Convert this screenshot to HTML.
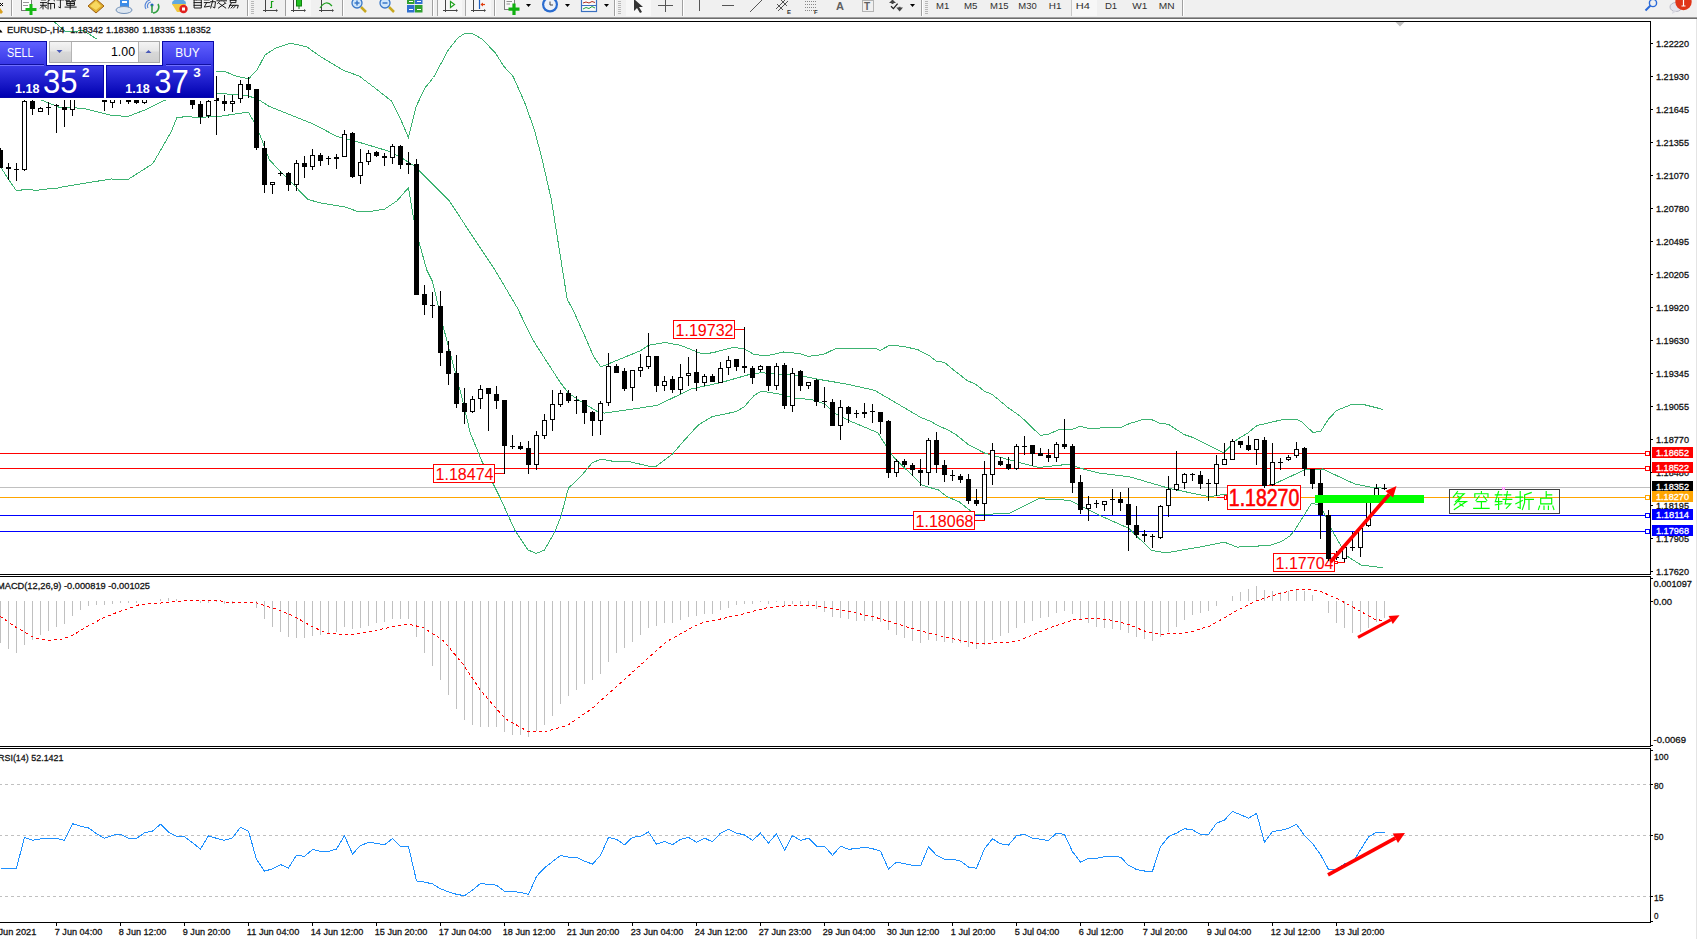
<!DOCTYPE html><html><head><meta charset="utf-8"><style>html,body{margin:0;padding:0;width:1697px;height:939px;overflow:hidden;background:#fff}svg{display:block}</style></head><body><svg width="1697" height="939" viewBox="0 0 1697 939"><rect x="0" y="0" width="1697" height="939" fill="#ffffff"/>
<rect x="0" y="0" width="1697" height="17" fill="#f0f0f0"/>
<rect x="0" y="17" width="1697" height="1" fill="#a0a0a0"/>
<rect x="0" y="18" width="1697" height="1" fill="#6d6d6d"/>
<polygon points="0,8 3,12 1,14 0,13" fill="#d8a020"/>
<path d="M0,3 L3,6 M0,6 L3,3" stroke="#000" stroke-width="1"/>
<rect x="11" y="0" width="1" height="16" fill="#a0a0a0"/>
<rect x="12" y="0" width="1" height="16" fill="#ffffff"/>
<rect x="21.5" y="-2.5" width="10" height="13" fill="#fff" stroke="#777"/>
<path d="M23,2.5 H29 M23,5.5 H28" stroke="#999"/>
<path d="M31,4 V15 M25.5,9.5 H36.5" stroke="#14b814" stroke-width="3"/>
<path d="M41.4,-0.1 L45.6,-0.1 M40.5,2.6 L46.5,2.6 M43.0,2.6 L43.0,8.9 M40.5,5.3 L46.5,5.3 M42.2,6.2 L40.5,8.0 M44.8,6.2 L46.5,8.0 M51.5,-1.0 L48.1,0.8 L48.1,8.9 M48.1,3.5 L52.4,3.5 M50.7,3.5 L50.7,8.9 M53.6,-0.1 L54.5,0.8 M52.8,3.5 L54.5,3.5 L54.5,8.0 M57.0,-0.1 L63.8,-0.1 M60.4,-0.1 L60.4,8.0 L58.8,7.1 M65.9,-1.9 L69.3,-1.9 L69.3,0.8 L65.9,0.8 L65.9,-1.9 M71.9,-1.9 L75.3,-1.9 L75.3,0.8 L71.9,0.8 L71.9,-1.9 M66.8,1.7 L74.4,1.7 L74.4,5.3 L66.8,5.3 L66.8,1.7 M66.8,3.5 L74.4,3.5 M70.2,1.7 L70.2,8.9 M65.1,7.1 L76.1,7.1" fill="none" stroke="#101010" stroke-width="0.95" stroke-linecap="square"/>
<polygon points="88,6 96,-1 104,6 96,13" fill="#e0b030" stroke="#a06010"/>
<polygon points="90,6 96,1 101,6 96,10" fill="#f8d860"/>
<rect x="120" y="-2" width="9" height="10" fill="#3c8ce8"/>
<rect x="122" y="1" width="5" height="2" fill="#fff"/>
<ellipse cx="124" cy="10" rx="8" ry="3.5" fill="#dde6f0" stroke="#7090b8"/>
<path d="M146,9 A6,6 0 0 1 150,0 M148,8 A4,4 0 0 1 151,2" fill="none" stroke="#5a88d8" stroke-width="1.2"/>
<path d="M158,4 A6,6 0 0 1 153,13" fill="none" stroke="#30a040" stroke-width="1.5"/>
<circle cx="152" cy="5" r="1.6" fill="#2060c0"/><path d="M152,5 V13" stroke="#2a9a40" stroke-width="1.5"/>
<ellipse cx="179" cy="3" rx="7" ry="4" fill="#60a8e0"/>
<polygon points="172,4 186,4 181,12 177,12" fill="#f0c840"/>
<circle cx="183.5" cy="9" r="4.2" fill="#e02020"/><rect x="182" y="7.5" width="3" height="3" fill="#fff"/>
<path d="M197.3,-1.9 L196.5,-0.1 M194.1,-0.1 L201.3,-0.1 L201.3,8.0 L194.1,8.0 L194.1,-0.1 M194.1,2.6 L201.3,2.6 M194.1,5.3 L201.3,5.3 M204.3,-0.1 L209.1,-0.1 M204.3,2.6 L209.9,2.6 M206.7,2.6 L204.3,7.1 L209.9,6.2 M210.7,1.7 L215.5,1.7 L214.7,8.0 L213.1,7.1 M213.1,-1.0 L210.7,8.0 M221.7,-1.9 L221.7,-0.1 M216.9,0.8 L226.5,0.8 M219.3,1.7 L217.7,3.5 M224.1,1.7 L225.7,3.5 M218.5,8.0 L224.9,3.5 M219.3,3.5 L225.7,8.0 M230.3,-1.9 L235.9,-1.9 L235.9,2.6 L230.3,2.6 L230.3,-1.9 M230.3,0.4 L235.9,0.4 M229.5,5.3 L238.3,5.3 L237.5,8.0 M231.1,3.5 L228.7,8.0 M233.5,5.3 L231.1,8.0 M235.9,5.3 L233.5,8.0" fill="none" stroke="#101010" stroke-width="0.95" stroke-linecap="square"/>
<rect x="247" y="0" width="1" height="16" fill="#a0a0a0"/>
<rect x="248" y="0" width="1" height="16" fill="#ffffff"/>
<rect x="251" y="1" width="3" height="1" fill="#b8b8b8"/>
<rect x="251" y="3" width="3" height="1" fill="#b8b8b8"/>
<rect x="251" y="5" width="3" height="1" fill="#b8b8b8"/>
<rect x="251" y="7" width="3" height="1" fill="#b8b8b8"/>
<rect x="251" y="9" width="3" height="1" fill="#b8b8b8"/>
<rect x="251" y="11" width="3" height="1" fill="#b8b8b8"/>
<rect x="251" y="13" width="3" height="1" fill="#b8b8b8"/>
<path d="M265.5,0 V12 M263,10.5 H276" stroke="#444" stroke-width="1"/>
<polygon points="276,9 278,10.5 276,12" fill="#444"/>
<path d="M271.5,1 V8 M271.5,1.5 H273.5 M270,7.5 H271.5" stroke="#14a014" stroke-width="1.2"/>
<rect x="285" y="0" width="1" height="16" fill="#a0a0a0"/>
<rect x="286" y="0" width="1" height="16" fill="#ffffff"/>
<rect x="286" y="0" width="25" height="16" fill="#f7f7f7"/>
<path d="M293.5,0 V12 M291,10.5 H304" stroke="#444" stroke-width="1"/>
<polygon points="304,9 306,10.5 304,12" fill="#444"/>
<rect x="296.5" y="-1" width="5" height="7" fill="#22c022" stroke="#108010"/><path d="M299,6 V9" stroke="#108010"/>
<path d="M321.5,0 V12 M319,10.5 H332" stroke="#444" stroke-width="1"/>
<polygon points="332,9 334,10.5 332,12" fill="#444"/>
<path d="M320,8 Q326,-1 332,6" fill="none" stroke="#20a020" stroke-width="1.2"/>
<rect x="342" y="0" width="1" height="16" fill="#a0a0a0"/>
<rect x="343" y="0" width="1" height="16" fill="#ffffff"/>
<path d="M361,7 L366,12" stroke="#c8a820" stroke-width="2.5"/>
<circle cx="357" cy="3" r="5" fill="#cfe6fa" stroke="#3a78c8" stroke-width="1.3"/>
<path d="M354.5,3 H359.5" stroke="#3a78c8" stroke-width="1.5"/>
<path d="M357,0.5 V5.5" stroke="#3a78c8" stroke-width="1.5"/>
<path d="M389,7 L394,12" stroke="#c8a820" stroke-width="2.5"/>
<circle cx="385" cy="3" r="5" fill="#cfe6fa" stroke="#3a78c8" stroke-width="1.3"/>
<path d="M382.5,3 H387.5" stroke="#3a78c8" stroke-width="1.5"/>
<rect x="407" y="-1" width="7.5" height="5" fill="#30a030"/><rect x="415" y="-1" width="7.5" height="5" fill="#3070d0"/>
<rect x="407" y="5" width="7.5" height="7.5" fill="#3070d0"/><rect x="415" y="5" width="7.5" height="7.5" fill="#30a030"/>
<path d="M409,9.5 H413 M417,9.5 H421 M409,1.5 H413 M417,1.5 H421" stroke="#fff"/>
<rect x="432" y="0" width="1" height="16" fill="#a0a0a0"/>
<rect x="433" y="0" width="1" height="16" fill="#ffffff"/>
<rect x="438" y="0" width="24" height="16" fill="#f7f7f7"/>
<rect x="437" y="0" width="1" height="16" fill="#a8a8a8"/>
<path d="M445.5,0 V12 M443,10.5 H456" stroke="#444" stroke-width="1"/>
<polygon points="456,9 458,10.5 456,12" fill="#444"/>
<polygon points="450.5,1.5 450.5,7.5 454.5,4.5" fill="#fff" stroke="#20a020" stroke-width="1.2"/>
<rect x="466" y="0" width="25" height="16" fill="#f7f7f7"/>
<rect x="465" y="0" width="1" height="16" fill="#a8a8a8"/>
<path d="M473.5,0 V12 M471,10.5 H484" stroke="#444" stroke-width="1"/>
<polygon points="484,9 486,10.5 484,12" fill="#444"/>
<path d="M479.5,-1 V9" stroke="#2060c0" stroke-width="1.2"/><path d="M481,4.5 H485" stroke="#e04010" stroke-width="1.2"/><polygon points="480.5,4.5 483,2.5 483,6.5" fill="#e04010"/>
<rect x="494" y="0" width="1" height="16" fill="#a0a0a0"/>
<rect x="495" y="0" width="1" height="16" fill="#ffffff"/>
<rect x="504.5" y="-2.5" width="10" height="12" fill="#f8f8f8" stroke="#808080"/><path d="M506.5,1.5 H512 M506.5,4 H510" stroke="#909090"/>
<path d="M514,3.5 V15 M508.5,9.2 H519.5" stroke="#10b010" stroke-width="3.2"/>
<polygon points="526,4 531,4 528.5,7" fill="#000"/>
<circle cx="550" cy="4.5" r="8" fill="#2a6cd0"/><circle cx="550" cy="4.5" r="5.8" fill="#eef2f8"/><path d="M550,1.5 V5 H553" stroke="#444" fill="none"/>
<polygon points="565,4 570,4 567.5,7" fill="#000"/>
<rect x="581.5" y="-1.5" width="15" height="13" fill="#fafafa" stroke="#3a70c0" stroke-width="1.2"/>
<path d="M583,3 L586,2 L589,3 L592,1.5 L595,2.5" fill="none" stroke="#b03020"/><path d="M583,9 L586,7.5 L589,8.5 L592,6.5 L595,8" fill="none" stroke="#20a040"/><path d="M582,5.5 H596" stroke="#3a70c0"/>
<polygon points="604,4 609,4 606.5,7" fill="#000"/>
<rect x="614" y="0" width="1" height="16" fill="#a0a0a0"/>
<rect x="615" y="0" width="1" height="16" fill="#ffffff"/>
<rect x="618" y="1" width="3" height="1" fill="#b8b8b8"/>
<rect x="618" y="3" width="3" height="1" fill="#b8b8b8"/>
<rect x="618" y="5" width="3" height="1" fill="#b8b8b8"/>
<rect x="618" y="7" width="3" height="1" fill="#b8b8b8"/>
<rect x="618" y="9" width="3" height="1" fill="#b8b8b8"/>
<rect x="618" y="11" width="3" height="1" fill="#b8b8b8"/>
<rect x="618" y="13" width="3" height="1" fill="#b8b8b8"/>
<rect x="626" y="0" width="25" height="16" fill="#f7f7f7"/>
<polygon points="634,-1 634,11 637,8 640,13 642,12 639,7 643,7" fill="#333"/>
<path d="M665.5,-1 V12 M658,5.5 H673" stroke="#555"/>
<rect x="682" y="0" width="1" height="16" fill="#a0a0a0"/>
<rect x="683" y="0" width="1" height="16" fill="#ffffff"/>
<path d="M699.5,-1 V11" stroke="#555"/>
<path d="M722,5.5 H734" stroke="#555"/>
<path d="M750,12 L763,-1" stroke="#555"/>
<path d="M776,9 L786,-1 M778,11 L788,1 M777,4 L783,10 M781,0 L787,6" stroke="#555"/>
<text x="787" y="13.5" font-size="6" fill="#333" font-family="Liberation Sans" font-weight="bold" stroke="none">E</text>
<path d="M805,1.5 H817 M805,4.5 H817 M805,7.5 H817 M805,10.5 H814" stroke="#888" stroke-dasharray="1,1"/>
<text x="814" y="13.5" font-size="6" fill="#333" font-family="Liberation Sans" font-weight="bold" stroke="none">F</text>
<text x="836" y="10" font-size="11" fill="#606060" font-family="Liberation Sans" font-weight="bold" stroke="none">A</text>
<rect x="862.5" y="0.5" width="11" height="11" fill="none" stroke="#777" stroke-dasharray="1,1"/>
<text x="864" y="10" font-size="10" fill="#606060" font-family="Liberation Sans" font-weight="bold" stroke="none">T</text>
<polygon points="889,3 896,3 892.5,-0.5" fill="#444"/><rect x="891.5" y="2.5" width="2" height="1.5" fill="#444"/>
<path d="M891,6.2 L893.4,8.6 L897.6,3.6" fill="none" stroke="#222" stroke-width="1.3"/>
<polygon points="896.3,7.5 903,7.5 899.65,11.5" fill="#444"/><rect x="898.6" y="6.8" width="2" height="1" fill="#444"/>
<polygon points="910,4 915,4 912.5,7" fill="#000"/>
<rect x="921" y="0" width="1" height="16" fill="#a0a0a0"/>
<rect x="922" y="0" width="1" height="16" fill="#ffffff"/>
<rect x="925" y="1" width="3" height="1" fill="#b8b8b8"/>
<rect x="925" y="3" width="3" height="1" fill="#b8b8b8"/>
<rect x="925" y="5" width="3" height="1" fill="#b8b8b8"/>
<rect x="925" y="7" width="3" height="1" fill="#b8b8b8"/>
<rect x="925" y="9" width="3" height="1" fill="#b8b8b8"/>
<rect x="925" y="11" width="3" height="1" fill="#b8b8b8"/>
<rect x="925" y="13" width="3" height="1" fill="#b8b8b8"/>
<text x="936.1" y="9" font-size="9.5" fill="#303030" font-family="Liberation Sans" textLength="13.2" lengthAdjust="spacingAndGlyphs" stroke="none">M1</text>
<text x="964.0" y="9" font-size="9.5" fill="#303030" font-family="Liberation Sans" textLength="13.5" lengthAdjust="spacingAndGlyphs" stroke="none">M5</text>
<text x="990.0" y="9" font-size="9.5" fill="#303030" font-family="Liberation Sans" textLength="18.5" lengthAdjust="spacingAndGlyphs" stroke="none">M15</text>
<text x="1018.3" y="9" font-size="9.5" fill="#303030" font-family="Liberation Sans" textLength="18.4" lengthAdjust="spacingAndGlyphs" stroke="none">M30</text>
<text x="1048.8" y="9" font-size="9.5" fill="#303030" font-family="Liberation Sans" textLength="12.7" lengthAdjust="spacingAndGlyphs" stroke="none">H1</text>
<rect x="1071" y="0" width="26" height="16" fill="#f7f7f7"/>
<rect x="1071" y="0" width="1" height="16" fill="#c8c8c8"/>
<text x="1075.7" y="9" font-size="9.5" fill="#303030" font-family="Liberation Sans" textLength="14.1" lengthAdjust="spacingAndGlyphs" stroke="none">H4</text>
<text x="1104.9" y="9" font-size="9.5" fill="#303030" font-family="Liberation Sans" textLength="12.3" lengthAdjust="spacingAndGlyphs" stroke="none">D1</text>
<text x="1132.3" y="9" font-size="9.5" fill="#303030" font-family="Liberation Sans" textLength="15.0" lengthAdjust="spacingAndGlyphs" stroke="none">W1</text>
<text x="1158.8" y="9" font-size="9.5" fill="#303030" font-family="Liberation Sans" textLength="15.8" lengthAdjust="spacingAndGlyphs" stroke="none">MN</text>
<rect x="1182" y="0" width="1" height="16" fill="#a0a0a0"/>
<rect x="1183" y="0" width="1" height="16" fill="#ffffff"/>
<circle cx="1653" cy="3" r="3.6" fill="none" stroke="#2a6ad8" stroke-width="1.4"/><path d="M1650.5,5.5 L1645.5,10.5" stroke="#2a6ad8" stroke-width="2"/>
<ellipse cx="1676" cy="7" rx="6" ry="4.5" fill="#e4e4ec" stroke="#b8b8c4"/><polygon points="1673,10 1672,14 1677,11" fill="#d8d8e0"/>
<circle cx="1683.5" cy="2" r="8.2" fill="#e03418"/>
<path d="M1683.5,-2 V6 M1681.5,6 H1685.5 M1682,-1 L1683.5,-2" stroke="#fff" stroke-width="1.2"/>
<rect x="1696" y="19" width="1" height="920" fill="#e4e4e4"/>
<rect x="0" y="21" width="1651" height="1" fill="#000000"/>
<rect x="1650" y="21" width="1" height="554" fill="#000000"/>
<rect x="0" y="574" width="1651" height="1" fill="#000000"/>
<rect x="0" y="576" width="1651" height="1" fill="#000000"/>
<rect x="1650" y="576" width="1" height="171" fill="#000000"/>
<rect x="0" y="746" width="1651" height="1" fill="#000000"/>
<rect x="0" y="748" width="1651" height="1" fill="#000000"/>
<rect x="1650" y="748" width="1" height="175" fill="#000000"/>
<rect x="0" y="922" width="1651" height="1" fill="#000000"/>
<defs><clipPath id="cm"><rect x="0" y="22" width="1650" height="552"/></clipPath><clipPath id="cd"><rect x="0" y="577" width="1650" height="169"/></clipPath><clipPath id="cr"><rect x="0" y="749" width="1650" height="173"/></clipPath><linearGradient id="gtop" x1="0" y1="0" x2="0" y2="1"><stop offset="0" stop-color="#6060ff"/><stop offset="1" stop-color="#3434e4"/></linearGradient><linearGradient id="gpx" x1="0" y1="0" x2="0" y2="1"><stop offset="0" stop-color="#3a3ae6"/><stop offset="1" stop-color="#0000b0"/></linearGradient><linearGradient id="gbtn" x1="0" y1="0" x2="0" y2="1"><stop offset="0" stop-color="#f4f4f4"/><stop offset="0.45" stop-color="#e6e6e6"/><stop offset="0.5" stop-color="#d8d8d8"/><stop offset="1" stop-color="#cfcfcf"/></linearGradient></defs>
<g clip-path="url(#cm)">
<rect x="0" y="453" width="1651" height="1" fill="#ff0000"/>
<rect x="0" y="468" width="1651" height="1" fill="#ff0000"/>
<rect x="0" y="487" width="1651" height="1" fill="#c0c0c0"/>
<rect x="0" y="497" width="1651" height="1" fill="#ffa500"/>
<rect x="0" y="515" width="1651" height="1" fill="#0000ff"/>
<rect x="0" y="531" width="1651" height="1" fill="#0000ff"/>
<g shape-rendering="crispEdges">
<polyline points="54.4,21.9 64.8,31.0 70.0,32.0 83.0,30.3 95.9,38.5 99.0,41.5 150.0,60.0 215.8,71.4 224.7,71.4 235.2,75.9 248.6,78.9 257.5,69.2 265.0,55.0 275.4,48.3 290.3,43.1 306.7,46.8 321.6,57.3 344.0,70.7 358.9,75.9 373.8,87.1 391.7,101.2 400.0,117.7 408.4,137.3 416.3,106.2 424.9,88.0 433.5,77.5 447.9,50.7 457.5,38.2 465.2,33.0 472.8,33.8 482.4,39.2 495.8,53.5 503.5,66.0 513.1,76.5 524.6,102.4 534.2,129.2 541.8,158.0 551.4,200.0 567.2,299.3 573.1,310.0 584.9,336.3 593.2,355.7 600.8,367.0 640.3,350.8 648.6,345.3 665.2,342.5 680.4,345.3 701.2,353.6 712.2,352.9 733.0,347.4 744.1,348.8 753.8,354.3 766.0,356.0 783.5,352.0 799.5,353.6 808.3,356.3 823.5,354.4 836.3,348.3 876.2,348.8 880.2,350.4 889.0,345.6 901.8,346.1 917.7,349.6 930.0,356.2 936.5,361.4 944.3,362.3 953.3,369.8 967.6,380.8 975.4,384.1 984.4,391.2 992.2,394.4 1007.8,407.4 1020.7,416.5 1040.2,435.3 1048.0,434.4 1059.6,429.4 1072.6,429.2 1080.4,426.2 1088.2,428.4 1098.5,428.4 1101.1,427.5 1120.6,427.5 1130.0,423.4 1144.3,419.1 1152.3,419.9 1160.2,423.4 1168.2,424.2 1184.1,434.5 1193.6,437.7 1223.9,452.8 1235.0,440.9 1247.7,433.0 1257.3,425.3 1265.2,423.7 1281.2,419.9 1295.5,419.1 1301.8,421.8 1313.0,432.6 1320.9,431.0 1328.9,418.6 1336.8,410.4 1351.2,404.6 1363.9,404.6 1383.0,409.4" fill="none" stroke="#3cb371" stroke-width="1"/>
<polyline points="41.5,100.0 60.0,107.6 74.8,107.8 83.6,108.5 111.9,115.4 127.9,116.5 144.9,109.9 164.7,100.3 190.0,95.0 215.8,93.0 248.6,96.0 257.5,99.0 269.4,106.5 291.8,115.4 314.2,124.4 336.5,136.3 358.9,142.2 388.7,151.2 400.6,157.1 415.0,166.5 449.4,200.9 470.0,232.5 480.0,247.4 495.0,270.0 517.4,308.0 530.7,335.7 535.3,343.8 560.0,382.0 566.6,390.8 568.3,393.0 584.9,404.1 598.8,412.4 604.3,413.1 656.9,405.5 691.5,388.9 720.6,382.7 750.0,374.3 761.2,372.7 782.0,374.3 801.1,375.9 817.1,379.1 845.8,383.9 874.6,390.3 920.9,417.5 930.0,421.0 937.8,425.6 946.9,429.4 955.9,434.6 968.9,445.0 984.7,453.1 1019.9,462.7 1039.0,467.5 1067.8,464.3 1083.8,469.1 1099.7,473.1 1130.0,476.9 1169.6,488.5 1209.2,496.7 1240.0,492.0 1275.2,483.5 1304.4,470.0 1322.6,469.0 1355.0,484.1 1371.2,487.2 1383.4,488.2" fill="none" stroke="#3cb371" stroke-width="1"/>
<polyline points="0.0,166.0 8.3,179.0 16.0,190.2 19.8,190.2 28.8,189.2 35.8,190.5 44.1,189.2 57.5,188.2 60.0,187.3 110.8,179.0 128.2,179.3 152.8,163.7 171.3,131.6 177.0,117.3 188.3,116.7 196.8,117.5 220.0,116.3 245.6,112.4 248.6,112.4 254.5,122.9 260.5,136.3 269.4,160.0 307.9,199.4 320.0,202.9 345.3,207.0 357.4,211.4 370.6,211.4 384.7,209.0 396.9,200.9 408.4,187.8 413.4,217.1 419.1,242.4 426.8,270.0 432.4,281.2 443.6,328.2 463.7,404.3 470.0,432.2 481.9,461.3 499.8,497.1 514.7,529.9 528.1,550.0 536.3,553.4 544.5,550.0 555.0,531.4 560.9,516.5 568.4,488.1 580.3,477.0 592.2,462.8 601.2,459.1 613.1,461.3 628.0,461.3 648.9,466.2 656.3,466.2 672.7,453.8 684.6,440.0 698.4,424.9 712.2,416.6 735.8,411.7 744.1,406.9 753.8,395.8 761.2,391.1 778.8,394.0 794.7,398.3 810.7,399.4 825.1,403.9 834.7,413.5 847.4,419.9 877.8,432.7 885.8,445.4 893.8,457.4 922.5,485.4 938.5,490.0 946.4,496.3 959.2,501.9 975.1,514.6 1008.7,513.5 1039.0,498.7 1069.4,500.3 1099.7,515.4 1128.5,528.2 1151.5,550.4 1166.3,552.8 1199.3,547.1 1224.1,542.1 1237.3,547.1 1270.3,545.4 1281.8,541.3 1290.2,535.7 1295.0,529.7 1311.5,503.3 1320.6,505.4 1332.8,531.7 1346.9,556.0 1361.1,565.1 1383.4,567.7" fill="none" stroke="#3cb371" stroke-width="1"/>
</g>
<rect x="1645.5" y="451.5" width="4" height="4" fill="#ffffff" stroke="#ff0000" stroke-width="1"/>
<rect x="1645.5" y="466.5" width="4" height="4" fill="#ffffff" stroke="#ff0000" stroke-width="1"/>
<rect x="1645.5" y="495.5" width="4" height="4" fill="#ffffff" stroke="#ffa500" stroke-width="1"/>
<rect x="1645.5" y="513.5" width="4" height="4" fill="#ffffff" stroke="#0000ff" stroke-width="1"/>
<rect x="1645.5" y="529.5" width="4" height="4" fill="#ffffff" stroke="#0000ff" stroke-width="1"/>
<rect x="673.5" y="320.5" width="61" height="18" fill="#ffffff" stroke="#ff0000" stroke-width="1"/>
<text x="675.5" y="336" font-size="16.8" fill="#ff0000" font-family="Liberation Sans" textLength="58" lengthAdjust="spacingAndGlyphs" stroke="#ff0000" stroke-width="0.05">1.19732</text>
<rect x="735" y="329" width="10" height="1" fill="#ff0000"/>
<rect x="433.5" y="464.5" width="61" height="18" fill="#ffffff" stroke="#ff0000" stroke-width="1"/>
<text x="435.5" y="480" font-size="16.8" fill="#ff0000" font-family="Liberation Sans" textLength="58" lengthAdjust="spacingAndGlyphs" stroke="#ff0000" stroke-width="0.05">1.18474</text>
<rect x="495" y="473" width="10" height="1" fill="#ff0000"/>
<rect x="913.5" y="511.5" width="61" height="18" fill="#ffffff" stroke="#ff0000" stroke-width="1"/>
<text x="915.5" y="527" font-size="16.8" fill="#ff0000" font-family="Liberation Sans" textLength="58" lengthAdjust="spacingAndGlyphs" stroke="#ff0000" stroke-width="0.05">1.18068</text>
<rect x="975" y="520" width="10" height="1" fill="#ff0000"/>
<rect x="1227.5" y="485.5" width="73" height="24" fill="#ffffff" stroke="#ff0000" stroke-width="1"/>
<text x="1228.8" y="506" font-size="23" fill="#ff0000" font-family="Liberation Sans" textLength="70.5" lengthAdjust="spacingAndGlyphs" stroke="#ff0000" stroke-width="0.6">1.18270</text>
<rect x="1217" y="497" width="7" height="1" fill="#ff0000"/>
<rect x="1224.5" y="495.5" width="2" height="4" fill="#ffffff" stroke="#ff0000" stroke-width="1"/>
<rect x="1273.5" y="553.5" width="61" height="18" fill="#ffffff" stroke="#ff0000" stroke-width="1"/>
<text x="1275.5" y="569" font-size="16.8" fill="#ff0000" font-family="Liberation Sans" textLength="58" lengthAdjust="spacingAndGlyphs" stroke="#ff0000" stroke-width="0.05">1.17704</text>
<rect x="1334.5" y="561.5" width="3" height="2" fill="#ffffff" stroke="#ff0000" stroke-width="1"/>
<rect x="1338" y="562" width="7" height="1" fill="#ff0000"/>
<g shape-rendering="crispEdges">
<rect x="0" y="148" width="1" height="20" fill="#000000"/>
<rect x="-2" y="150" width="5" height="18" fill="#000000"/>
<rect x="8" y="163" width="1" height="17" fill="#000000"/>
<rect x="6" y="167" width="5" height="2" fill="#000000"/>
<rect x="16" y="163" width="1" height="18" fill="#000000"/>
<rect x="14" y="169" width="5" height="1" fill="#000000"/>
<rect x="24" y="100" width="1" height="71" fill="#000000"/>
<rect x="22" y="101" width="5" height="69" fill="#000000"/>
<rect x="23" y="102" width="3" height="67" fill="#ffffff"/>
<rect x="32" y="100" width="1" height="15" fill="#000000"/>
<rect x="30" y="101" width="5" height="8" fill="#000000"/>
<rect x="40" y="107" width="1" height="5" fill="#000000"/>
<rect x="38" y="108" width="5" height="4" fill="#000000"/>
<rect x="39" y="109" width="3" height="2" fill="#ffffff"/>
<rect x="48" y="102" width="1" height="13" fill="#000000"/>
<rect x="46" y="107" width="5" height="1" fill="#000000"/>
<rect x="56" y="104" width="1" height="29" fill="#000000"/>
<rect x="54" y="105" width="5" height="1" fill="#000000"/>
<rect x="64" y="90" width="1" height="37" fill="#000000"/>
<rect x="62" y="107" width="5" height="3" fill="#000000"/>
<rect x="72" y="85" width="1" height="31" fill="#000000"/>
<rect x="70" y="90" width="5" height="20" fill="#000000"/>
<rect x="71" y="91" width="3" height="18" fill="#ffffff"/>
<rect x="104" y="85" width="1" height="26" fill="#000000"/>
<rect x="102" y="90" width="5" height="12" fill="#000000"/>
<rect x="112" y="85" width="1" height="23" fill="#000000"/>
<rect x="110" y="90" width="5" height="13" fill="#000000"/>
<rect x="111" y="91" width="3" height="11" fill="#ffffff"/>
<rect x="120" y="85" width="1" height="19" fill="#000000"/>
<rect x="118" y="95" width="5" height="1" fill="#000000"/>
<rect x="128" y="85" width="1" height="19" fill="#000000"/>
<rect x="126" y="90" width="5" height="12" fill="#000000"/>
<rect x="136" y="85" width="1" height="19" fill="#000000"/>
<rect x="134" y="90" width="5" height="13" fill="#000000"/>
<rect x="144" y="85" width="1" height="19" fill="#000000"/>
<rect x="142" y="90" width="5" height="13" fill="#000000"/>
<rect x="143" y="91" width="3" height="11" fill="#ffffff"/>
<rect x="192" y="85" width="1" height="24" fill="#000000"/>
<rect x="190" y="92" width="5" height="13" fill="#000000"/>
<rect x="200" y="101" width="1" height="23" fill="#000000"/>
<rect x="198" y="104" width="5" height="13" fill="#000000"/>
<rect x="208" y="99" width="1" height="19" fill="#000000"/>
<rect x="206" y="101" width="5" height="15" fill="#000000"/>
<rect x="207" y="102" width="3" height="13" fill="#ffffff"/>
<rect x="216" y="76" width="1" height="59" fill="#000000"/>
<rect x="214" y="98" width="5" height="3" fill="#000000"/>
<rect x="224" y="95" width="1" height="16" fill="#000000"/>
<rect x="222" y="101" width="5" height="3" fill="#000000"/>
<rect x="232" y="95" width="1" height="17" fill="#000000"/>
<rect x="230" y="101" width="5" height="3" fill="#000000"/>
<rect x="231" y="102" width="3" height="1" fill="#ffffff"/>
<rect x="240" y="80" width="1" height="23" fill="#000000"/>
<rect x="238" y="84" width="5" height="15" fill="#000000"/>
<rect x="239" y="85" width="3" height="13" fill="#ffffff"/>
<rect x="248" y="77" width="1" height="21" fill="#000000"/>
<rect x="246" y="84" width="5" height="6" fill="#000000"/>
<rect x="256" y="89" width="1" height="61" fill="#000000"/>
<rect x="254" y="89" width="5" height="59" fill="#000000"/>
<rect x="264" y="141" width="1" height="52" fill="#000000"/>
<rect x="262" y="148" width="5" height="37" fill="#000000"/>
<rect x="272" y="182" width="1" height="12" fill="#000000"/>
<rect x="270" y="182" width="5" height="3" fill="#000000"/>
<rect x="271" y="183" width="3" height="1" fill="#ffffff"/>
<rect x="280" y="171" width="1" height="5" fill="#000000"/>
<rect x="278" y="173" width="5" height="1" fill="#000000"/>
<rect x="288" y="172" width="1" height="19" fill="#000000"/>
<rect x="286" y="173" width="5" height="12" fill="#000000"/>
<rect x="296" y="160" width="1" height="31" fill="#000000"/>
<rect x="294" y="163" width="5" height="22" fill="#000000"/>
<rect x="295" y="164" width="3" height="20" fill="#ffffff"/>
<rect x="304" y="156" width="1" height="22" fill="#000000"/>
<rect x="302" y="163" width="5" height="4" fill="#000000"/>
<rect x="312" y="149" width="1" height="21" fill="#000000"/>
<rect x="310" y="155" width="5" height="12" fill="#000000"/>
<rect x="311" y="156" width="3" height="10" fill="#ffffff"/>
<rect x="320" y="153" width="1" height="13" fill="#000000"/>
<rect x="318" y="155" width="5" height="6" fill="#000000"/>
<rect x="328" y="156" width="1" height="9" fill="#000000"/>
<rect x="326" y="158" width="5" height="1" fill="#000000"/>
<rect x="336" y="154" width="1" height="15" fill="#000000"/>
<rect x="334" y="157" width="5" height="2" fill="#000000"/>
<rect x="344" y="130" width="1" height="27" fill="#000000"/>
<rect x="342" y="134" width="5" height="23" fill="#000000"/>
<rect x="343" y="135" width="3" height="21" fill="#ffffff"/>
<rect x="352" y="132" width="1" height="46" fill="#000000"/>
<rect x="350" y="133" width="5" height="44" fill="#000000"/>
<rect x="360" y="149" width="1" height="35" fill="#000000"/>
<rect x="358" y="162" width="5" height="14" fill="#000000"/>
<rect x="359" y="163" width="3" height="12" fill="#ffffff"/>
<rect x="368" y="150" width="1" height="15" fill="#000000"/>
<rect x="366" y="153" width="5" height="9" fill="#000000"/>
<rect x="367" y="154" width="3" height="7" fill="#ffffff"/>
<rect x="376" y="151" width="1" height="6" fill="#000000"/>
<rect x="374" y="152" width="5" height="4" fill="#000000"/>
<rect x="384" y="153" width="1" height="13" fill="#000000"/>
<rect x="382" y="156" width="5" height="2" fill="#000000"/>
<rect x="392" y="144" width="1" height="20" fill="#000000"/>
<rect x="390" y="146" width="5" height="12" fill="#000000"/>
<rect x="391" y="147" width="3" height="10" fill="#ffffff"/>
<rect x="400" y="145" width="1" height="24" fill="#000000"/>
<rect x="398" y="146" width="5" height="19" fill="#000000"/>
<rect x="408" y="152" width="1" height="22" fill="#000000"/>
<rect x="406" y="163" width="5" height="2" fill="#000000"/>
<rect x="416" y="159" width="1" height="136" fill="#000000"/>
<rect x="414" y="164" width="5" height="131" fill="#000000"/>
<rect x="424" y="285" width="1" height="30" fill="#000000"/>
<rect x="422" y="294" width="5" height="11" fill="#000000"/>
<rect x="432" y="292" width="1" height="26" fill="#000000"/>
<rect x="430" y="305" width="5" height="1" fill="#000000"/>
<rect x="440" y="291" width="1" height="75" fill="#000000"/>
<rect x="438" y="306" width="5" height="47" fill="#000000"/>
<rect x="448" y="341" width="1" height="44" fill="#000000"/>
<rect x="446" y="351" width="5" height="23" fill="#000000"/>
<rect x="456" y="355" width="1" height="53" fill="#000000"/>
<rect x="454" y="373" width="5" height="31" fill="#000000"/>
<rect x="464" y="388" width="1" height="36" fill="#000000"/>
<rect x="462" y="403" width="5" height="9" fill="#000000"/>
<rect x="472" y="396" width="1" height="17" fill="#000000"/>
<rect x="470" y="399" width="5" height="13" fill="#000000"/>
<rect x="471" y="400" width="3" height="11" fill="#ffffff"/>
<rect x="480" y="385" width="1" height="24" fill="#000000"/>
<rect x="478" y="389" width="5" height="10" fill="#000000"/>
<rect x="479" y="390" width="3" height="8" fill="#ffffff"/>
<rect x="488" y="388" width="1" height="43" fill="#000000"/>
<rect x="486" y="388" width="5" height="6" fill="#000000"/>
<rect x="496" y="386" width="1" height="23" fill="#000000"/>
<rect x="494" y="394" width="5" height="7" fill="#000000"/>
<rect x="504" y="400" width="1" height="74" fill="#000000"/>
<rect x="502" y="400" width="5" height="46" fill="#000000"/>
<rect x="512" y="435" width="1" height="14" fill="#000000"/>
<rect x="510" y="446" width="5" height="1" fill="#000000"/>
<rect x="520" y="442" width="1" height="8" fill="#000000"/>
<rect x="518" y="446" width="5" height="3" fill="#000000"/>
<rect x="528" y="441" width="1" height="33" fill="#000000"/>
<rect x="526" y="448" width="5" height="17" fill="#000000"/>
<rect x="536" y="431" width="1" height="39" fill="#000000"/>
<rect x="534" y="435" width="5" height="30" fill="#000000"/>
<rect x="535" y="436" width="3" height="28" fill="#ffffff"/>
<rect x="544" y="414" width="1" height="25" fill="#000000"/>
<rect x="542" y="420" width="5" height="16" fill="#000000"/>
<rect x="543" y="421" width="3" height="14" fill="#ffffff"/>
<rect x="552" y="390" width="1" height="41" fill="#000000"/>
<rect x="550" y="404" width="5" height="16" fill="#000000"/>
<rect x="551" y="405" width="3" height="14" fill="#ffffff"/>
<rect x="560" y="390" width="1" height="17" fill="#000000"/>
<rect x="558" y="393" width="5" height="12" fill="#000000"/>
<rect x="559" y="394" width="3" height="10" fill="#ffffff"/>
<rect x="568" y="390" width="1" height="13" fill="#000000"/>
<rect x="566" y="393" width="5" height="8" fill="#000000"/>
<rect x="576" y="396" width="1" height="18" fill="#000000"/>
<rect x="574" y="400" width="5" height="1" fill="#000000"/>
<rect x="584" y="400" width="1" height="24" fill="#000000"/>
<rect x="582" y="400" width="5" height="13" fill="#000000"/>
<rect x="592" y="411" width="1" height="25" fill="#000000"/>
<rect x="590" y="412" width="5" height="9" fill="#000000"/>
<rect x="600" y="401" width="1" height="34" fill="#000000"/>
<rect x="598" y="403" width="5" height="18" fill="#000000"/>
<rect x="599" y="404" width="3" height="16" fill="#ffffff"/>
<rect x="608" y="353" width="1" height="53" fill="#000000"/>
<rect x="606" y="366" width="5" height="37" fill="#000000"/>
<rect x="607" y="367" width="3" height="35" fill="#ffffff"/>
<rect x="616" y="364" width="1" height="9" fill="#000000"/>
<rect x="614" y="366" width="5" height="7" fill="#000000"/>
<rect x="624" y="368" width="1" height="23" fill="#000000"/>
<rect x="622" y="371" width="5" height="18" fill="#000000"/>
<rect x="632" y="370" width="1" height="31" fill="#000000"/>
<rect x="630" y="370" width="5" height="18" fill="#000000"/>
<rect x="631" y="371" width="3" height="16" fill="#ffffff"/>
<rect x="640" y="354" width="1" height="23" fill="#000000"/>
<rect x="638" y="367" width="5" height="4" fill="#000000"/>
<rect x="639" y="368" width="3" height="2" fill="#ffffff"/>
<rect x="648" y="333" width="1" height="36" fill="#000000"/>
<rect x="646" y="356" width="5" height="11" fill="#000000"/>
<rect x="647" y="357" width="3" height="9" fill="#ffffff"/>
<rect x="656" y="356" width="1" height="36" fill="#000000"/>
<rect x="654" y="356" width="5" height="30" fill="#000000"/>
<rect x="664" y="376" width="1" height="15" fill="#000000"/>
<rect x="662" y="381" width="5" height="5" fill="#000000"/>
<rect x="663" y="382" width="3" height="3" fill="#ffffff"/>
<rect x="672" y="376" width="1" height="17" fill="#000000"/>
<rect x="670" y="379" width="5" height="11" fill="#000000"/>
<rect x="680" y="364" width="1" height="30" fill="#000000"/>
<rect x="678" y="377" width="5" height="13" fill="#000000"/>
<rect x="679" y="378" width="3" height="11" fill="#ffffff"/>
<rect x="688" y="357" width="1" height="29" fill="#000000"/>
<rect x="686" y="373" width="5" height="3" fill="#000000"/>
<rect x="687" y="374" width="3" height="1" fill="#ffffff"/>
<rect x="696" y="349" width="1" height="42" fill="#000000"/>
<rect x="694" y="372" width="5" height="11" fill="#000000"/>
<rect x="704" y="374" width="1" height="12" fill="#000000"/>
<rect x="702" y="376" width="5" height="7" fill="#000000"/>
<rect x="703" y="377" width="3" height="5" fill="#ffffff"/>
<rect x="712" y="374" width="1" height="8" fill="#000000"/>
<rect x="710" y="376" width="5" height="6" fill="#000000"/>
<rect x="720" y="362" width="1" height="21" fill="#000000"/>
<rect x="718" y="368" width="5" height="15" fill="#000000"/>
<rect x="719" y="369" width="3" height="13" fill="#ffffff"/>
<rect x="728" y="356" width="1" height="19" fill="#000000"/>
<rect x="726" y="360" width="5" height="8" fill="#000000"/>
<rect x="727" y="361" width="3" height="6" fill="#ffffff"/>
<rect x="736" y="359" width="1" height="12" fill="#000000"/>
<rect x="734" y="359" width="5" height="8" fill="#000000"/>
<rect x="744" y="327" width="1" height="46" fill="#000000"/>
<rect x="742" y="366" width="5" height="2" fill="#000000"/>
<rect x="752" y="366" width="1" height="18" fill="#000000"/>
<rect x="750" y="368" width="5" height="10" fill="#000000"/>
<rect x="760" y="365" width="1" height="7" fill="#000000"/>
<rect x="758" y="366" width="5" height="4" fill="#000000"/>
<rect x="759" y="367" width="3" height="2" fill="#ffffff"/>
<rect x="768" y="366" width="1" height="25" fill="#000000"/>
<rect x="766" y="366" width="5" height="20" fill="#000000"/>
<rect x="776" y="363" width="1" height="27" fill="#000000"/>
<rect x="774" y="366" width="5" height="20" fill="#000000"/>
<rect x="775" y="367" width="3" height="18" fill="#ffffff"/>
<rect x="784" y="363" width="1" height="46" fill="#000000"/>
<rect x="782" y="365" width="5" height="41" fill="#000000"/>
<rect x="792" y="368" width="1" height="44" fill="#000000"/>
<rect x="790" y="373" width="5" height="33" fill="#000000"/>
<rect x="791" y="374" width="3" height="31" fill="#ffffff"/>
<rect x="800" y="370" width="1" height="21" fill="#000000"/>
<rect x="798" y="371" width="5" height="15" fill="#000000"/>
<rect x="808" y="382" width="1" height="7" fill="#000000"/>
<rect x="806" y="382" width="5" height="4" fill="#000000"/>
<rect x="807" y="383" width="3" height="2" fill="#ffffff"/>
<rect x="816" y="379" width="1" height="27" fill="#000000"/>
<rect x="814" y="380" width="5" height="22" fill="#000000"/>
<rect x="824" y="387" width="1" height="21" fill="#000000"/>
<rect x="822" y="401" width="5" height="1" fill="#000000"/>
<rect x="832" y="399" width="1" height="27" fill="#000000"/>
<rect x="830" y="402" width="5" height="24" fill="#000000"/>
<rect x="840" y="400" width="1" height="40" fill="#000000"/>
<rect x="838" y="407" width="5" height="19" fill="#000000"/>
<rect x="839" y="408" width="3" height="17" fill="#ffffff"/>
<rect x="848" y="406" width="1" height="17" fill="#000000"/>
<rect x="846" y="407" width="5" height="7" fill="#000000"/>
<rect x="856" y="410" width="1" height="8" fill="#000000"/>
<rect x="854" y="413" width="5" height="1" fill="#000000"/>
<rect x="864" y="403" width="1" height="15" fill="#000000"/>
<rect x="862" y="412" width="5" height="2" fill="#000000"/>
<rect x="872" y="404" width="1" height="19" fill="#000000"/>
<rect x="870" y="411" width="5" height="1" fill="#000000"/>
<rect x="880" y="412" width="1" height="22" fill="#000000"/>
<rect x="878" y="412" width="5" height="10" fill="#000000"/>
<rect x="888" y="420" width="1" height="58" fill="#000000"/>
<rect x="886" y="421" width="5" height="52" fill="#000000"/>
<rect x="896" y="459" width="1" height="18" fill="#000000"/>
<rect x="894" y="461" width="5" height="12" fill="#000000"/>
<rect x="895" y="462" width="3" height="10" fill="#ffffff"/>
<rect x="904" y="459" width="1" height="8" fill="#000000"/>
<rect x="902" y="461" width="5" height="4" fill="#000000"/>
<rect x="912" y="463" width="1" height="13" fill="#000000"/>
<rect x="910" y="465" width="5" height="5" fill="#000000"/>
<rect x="920" y="459" width="1" height="27" fill="#000000"/>
<rect x="918" y="470" width="5" height="3" fill="#000000"/>
<rect x="928" y="438" width="1" height="47" fill="#000000"/>
<rect x="926" y="440" width="5" height="33" fill="#000000"/>
<rect x="927" y="441" width="3" height="31" fill="#ffffff"/>
<rect x="936" y="432" width="1" height="41" fill="#000000"/>
<rect x="934" y="440" width="5" height="25" fill="#000000"/>
<rect x="944" y="460" width="1" height="22" fill="#000000"/>
<rect x="942" y="465" width="5" height="10" fill="#000000"/>
<rect x="952" y="470" width="1" height="11" fill="#000000"/>
<rect x="950" y="475" width="5" height="1" fill="#000000"/>
<rect x="960" y="474" width="1" height="9" fill="#000000"/>
<rect x="958" y="476" width="5" height="4" fill="#000000"/>
<rect x="968" y="474" width="1" height="30" fill="#000000"/>
<rect x="966" y="479" width="5" height="22" fill="#000000"/>
<rect x="976" y="489" width="1" height="17" fill="#000000"/>
<rect x="974" y="500" width="5" height="4" fill="#000000"/>
<rect x="984" y="461" width="1" height="59" fill="#000000"/>
<rect x="982" y="474" width="5" height="30" fill="#000000"/>
<rect x="983" y="475" width="3" height="28" fill="#ffffff"/>
<rect x="992" y="443" width="1" height="42" fill="#000000"/>
<rect x="990" y="450" width="5" height="25" fill="#000000"/>
<rect x="991" y="451" width="3" height="23" fill="#ffffff"/>
<rect x="1000" y="457" width="1" height="9" fill="#000000"/>
<rect x="998" y="461" width="5" height="4" fill="#000000"/>
<rect x="1008" y="457" width="1" height="13" fill="#000000"/>
<rect x="1006" y="464" width="5" height="5" fill="#000000"/>
<rect x="1016" y="444" width="1" height="26" fill="#000000"/>
<rect x="1014" y="446" width="5" height="23" fill="#000000"/>
<rect x="1015" y="447" width="3" height="21" fill="#ffffff"/>
<rect x="1024" y="436" width="1" height="19" fill="#000000"/>
<rect x="1022" y="446" width="5" height="1" fill="#000000"/>
<rect x="1032" y="445" width="1" height="21" fill="#000000"/>
<rect x="1030" y="445" width="5" height="9" fill="#000000"/>
<rect x="1040" y="448" width="1" height="8" fill="#000000"/>
<rect x="1038" y="453" width="5" height="3" fill="#000000"/>
<rect x="1048" y="449" width="1" height="13" fill="#000000"/>
<rect x="1046" y="455" width="5" height="3" fill="#000000"/>
<rect x="1056" y="442" width="1" height="20" fill="#000000"/>
<rect x="1054" y="444" width="5" height="14" fill="#000000"/>
<rect x="1055" y="445" width="3" height="12" fill="#ffffff"/>
<rect x="1064" y="419" width="1" height="30" fill="#000000"/>
<rect x="1062" y="444" width="5" height="3" fill="#000000"/>
<rect x="1072" y="444" width="1" height="49" fill="#000000"/>
<rect x="1070" y="446" width="5" height="37" fill="#000000"/>
<rect x="1080" y="475" width="1" height="39" fill="#000000"/>
<rect x="1078" y="482" width="5" height="28" fill="#000000"/>
<rect x="1088" y="496" width="1" height="25" fill="#000000"/>
<rect x="1086" y="504" width="5" height="5" fill="#000000"/>
<rect x="1087" y="505" width="3" height="3" fill="#ffffff"/>
<rect x="1096" y="500" width="1" height="8" fill="#000000"/>
<rect x="1094" y="503" width="5" height="1" fill="#000000"/>
<rect x="1104" y="501" width="1" height="10" fill="#000000"/>
<rect x="1102" y="501" width="5" height="4" fill="#000000"/>
<rect x="1103" y="502" width="3" height="2" fill="#ffffff"/>
<rect x="1112" y="489" width="1" height="26" fill="#000000"/>
<rect x="1110" y="499" width="5" height="1" fill="#000000"/>
<rect x="1120" y="492" width="1" height="19" fill="#000000"/>
<rect x="1118" y="499" width="5" height="4" fill="#000000"/>
<rect x="1128" y="488" width="1" height="63" fill="#000000"/>
<rect x="1126" y="504" width="5" height="21" fill="#000000"/>
<rect x="1136" y="506" width="1" height="32" fill="#000000"/>
<rect x="1134" y="525" width="5" height="10" fill="#000000"/>
<rect x="1144" y="530" width="1" height="12" fill="#000000"/>
<rect x="1142" y="534" width="5" height="2" fill="#000000"/>
<rect x="1152" y="534" width="1" height="14" fill="#000000"/>
<rect x="1150" y="536" width="5" height="1" fill="#000000"/>
<rect x="1160" y="505" width="1" height="34" fill="#000000"/>
<rect x="1158" y="506" width="5" height="32" fill="#000000"/>
<rect x="1159" y="507" width="3" height="30" fill="#ffffff"/>
<rect x="1168" y="476" width="1" height="41" fill="#000000"/>
<rect x="1166" y="489" width="5" height="17" fill="#000000"/>
<rect x="1167" y="490" width="3" height="15" fill="#ffffff"/>
<rect x="1176" y="451" width="1" height="40" fill="#000000"/>
<rect x="1174" y="484" width="5" height="6" fill="#000000"/>
<rect x="1175" y="485" width="3" height="4" fill="#ffffff"/>
<rect x="1184" y="473" width="1" height="16" fill="#000000"/>
<rect x="1182" y="474" width="5" height="9" fill="#000000"/>
<rect x="1183" y="475" width="3" height="7" fill="#ffffff"/>
<rect x="1192" y="473" width="1" height="8" fill="#000000"/>
<rect x="1190" y="474" width="5" height="1" fill="#000000"/>
<rect x="1200" y="471" width="1" height="18" fill="#000000"/>
<rect x="1198" y="475" width="5" height="9" fill="#000000"/>
<rect x="1208" y="479" width="1" height="22" fill="#000000"/>
<rect x="1206" y="483" width="5" height="1" fill="#000000"/>
<rect x="1216" y="455" width="1" height="41" fill="#000000"/>
<rect x="1214" y="464" width="5" height="20" fill="#000000"/>
<rect x="1215" y="465" width="3" height="18" fill="#ffffff"/>
<rect x="1224" y="443" width="1" height="22" fill="#000000"/>
<rect x="1222" y="459" width="5" height="6" fill="#000000"/>
<rect x="1223" y="460" width="3" height="4" fill="#ffffff"/>
<rect x="1232" y="439" width="1" height="21" fill="#000000"/>
<rect x="1230" y="441" width="5" height="19" fill="#000000"/>
<rect x="1231" y="442" width="3" height="17" fill="#ffffff"/>
<rect x="1240" y="441" width="1" height="7" fill="#000000"/>
<rect x="1238" y="441" width="5" height="4" fill="#000000"/>
<rect x="1248" y="436" width="1" height="15" fill="#000000"/>
<rect x="1246" y="445" width="5" height="5" fill="#000000"/>
<rect x="1256" y="439" width="1" height="26" fill="#000000"/>
<rect x="1254" y="439" width="5" height="11" fill="#000000"/>
<rect x="1255" y="440" width="3" height="9" fill="#ffffff"/>
<rect x="1264" y="437" width="1" height="51" fill="#000000"/>
<rect x="1262" y="440" width="5" height="46" fill="#000000"/>
<rect x="1272" y="443" width="1" height="43" fill="#000000"/>
<rect x="1270" y="462" width="5" height="23" fill="#000000"/>
<rect x="1271" y="463" width="3" height="21" fill="#ffffff"/>
<rect x="1280" y="458" width="1" height="12" fill="#000000"/>
<rect x="1278" y="462" width="5" height="1" fill="#000000"/>
<rect x="1288" y="455" width="1" height="6" fill="#000000"/>
<rect x="1286" y="457" width="5" height="3" fill="#000000"/>
<rect x="1287" y="458" width="3" height="1" fill="#ffffff"/>
<rect x="1296" y="442" width="1" height="16" fill="#000000"/>
<rect x="1294" y="449" width="5" height="7" fill="#000000"/>
<rect x="1295" y="450" width="3" height="5" fill="#ffffff"/>
<rect x="1304" y="447" width="1" height="29" fill="#000000"/>
<rect x="1302" y="448" width="5" height="21" fill="#000000"/>
<rect x="1312" y="469" width="1" height="20" fill="#000000"/>
<rect x="1310" y="469" width="5" height="15" fill="#000000"/>
<rect x="1320" y="470" width="1" height="69" fill="#000000"/>
<rect x="1318" y="483" width="5" height="32" fill="#000000"/>
<rect x="1328" y="510" width="1" height="51" fill="#000000"/>
<rect x="1326" y="515" width="5" height="44" fill="#000000"/>
<rect x="1336" y="551" width="1" height="9" fill="#000000"/>
<rect x="1334" y="557" width="5" height="1" fill="#000000"/>
<rect x="1344" y="544" width="1" height="18" fill="#000000"/>
<rect x="1342" y="547" width="5" height="12" fill="#000000"/>
<rect x="1343" y="548" width="3" height="10" fill="#ffffff"/>
<rect x="1352" y="532" width="1" height="19" fill="#000000"/>
<rect x="1350" y="547" width="5" height="1" fill="#000000"/>
<rect x="1360" y="525" width="1" height="32" fill="#000000"/>
<rect x="1358" y="528" width="5" height="20" fill="#000000"/>
<rect x="1359" y="529" width="3" height="18" fill="#ffffff"/>
<rect x="1368" y="501" width="1" height="26" fill="#000000"/>
<rect x="1366" y="502" width="5" height="24" fill="#000000"/>
<rect x="1367" y="503" width="3" height="22" fill="#ffffff"/>
<rect x="1376" y="484" width="1" height="18" fill="#000000"/>
<rect x="1374" y="488" width="5" height="14" fill="#000000"/>
<rect x="1375" y="489" width="3" height="12" fill="#ffffff"/>
<rect x="1384" y="484" width="1" height="6" fill="#000000"/>
<rect x="1382" y="488" width="5" height="1" fill="#000000"/>
</g>
<rect x="1315" y="495" width="109" height="8" fill="#00ff00"/>
<rect x="1449.5" y="489.5" width="110" height="24" fill="none" stroke="#404040" stroke-width="1"/>
<path d="M1457.6,491.5 L1453.2,497.1 M1456.5,493.7 L1464.2,493.7 L1455.4,501.6 M1457.6,496.0 L1460.9,498.2 M1459.8,499.3 L1454.3,504.9 M1458.7,501.6 L1466.4,501.6 L1454.3,509.4 M1459.8,503.8 L1463.1,506.1 M1481.4,491.5 L1481.4,493.7 M1474.8,497.1 L1474.8,493.7 L1488.0,493.7 L1488.0,497.1 M1479.2,496.0 L1475.9,500.5 M1483.6,496.0 L1486.9,500.5 M1477.0,501.6 L1485.8,501.6 M1481.4,501.6 L1481.4,508.3 M1473.7,508.3 L1489.1,508.3 M1495.3,494.9 L1501.9,494.9 M1498.6,491.5 L1495.3,501.6 L1501.9,501.6 M1498.6,498.2 L1498.6,509.4 M1495.3,504.9 L1501.9,503.8 M1504.1,494.9 L1510.7,494.9 M1503.0,499.3 L1511.8,499.3 M1507.4,491.5 L1505.2,503.8 L1510.7,503.8 L1506.3,508.3 M1515.8,497.1 L1522.4,497.1 M1520.2,491.5 L1520.2,508.3 L1518.0,507.2 M1515.8,503.8 L1522.4,500.5 M1531.2,492.6 L1524.6,494.9 L1524.6,502.7 L1522.4,509.4 M1524.6,499.3 L1533.4,499.3 M1529.0,499.3 L1529.0,509.4 M1546.2,491.5 L1546.2,498.2 M1546.2,494.9 L1551.7,494.9 M1540.7,498.2 L1551.7,498.2 L1551.7,503.8 L1540.7,503.8 L1540.7,498.2 M1539.6,506.1 L1538.5,509.4 M1544.0,506.1 L1544.0,509.4 M1548.4,506.1 L1548.4,509.4 M1552.8,506.1 L1553.9,509.4" fill="none" stroke="#00ff00" stroke-width="1.15" stroke-linecap="square"/>
<rect x="1502.5" y="487.5" width="2" height="2" fill="none" stroke="#ff90ff" stroke-width="1"/>
<line x1="1330.5" y1="562.0" x2="1389.3" y2="494.3" stroke="#ff0000" stroke-width="3.6"/>
<polygon points="1396.5,486.0 1393.1,497.6 1385.5,491.0" fill="#ff0000"/>
<polygon points="1395.5,22 1404.5,22 1400,26.5" fill="#c0c0c0"/>
<text x="7" y="33" font-size="9.8" fill="#141414" font-family="Liberation Sans" textLength="57.5" lengthAdjust="spacingAndGlyphs" stroke="#141414" stroke-width="0.3">EURUSD-,H4</text>
<text x="70.2" y="33" font-size="9.8" fill="#141414" font-family="Liberation Sans" textLength="32.8" lengthAdjust="spacingAndGlyphs" stroke="#141414" stroke-width="0.3">1.18342</text>
<text x="106" y="33" font-size="9.8" fill="#141414" font-family="Liberation Sans" textLength="32.8" lengthAdjust="spacingAndGlyphs" stroke="#141414" stroke-width="0.3">1.18380</text>
<text x="142.2" y="33" font-size="9.8" fill="#141414" font-family="Liberation Sans" textLength="32.8" lengthAdjust="spacingAndGlyphs" stroke="#141414" stroke-width="0.3">1.18335</text>
<text x="178" y="33" font-size="9.8" fill="#141414" font-family="Liberation Sans" textLength="32.8" lengthAdjust="spacingAndGlyphs" stroke="#141414" stroke-width="0.3">1.18352</text>
<polygon points="-1,32.5 2.5,32.5 0.5,29.5" fill="#000"/>
</g>
<rect x="0" y="39" width="216" height="61" fill="#ffffff"/>
<rect x="0" y="41" width="47" height="25" fill="#0808a8"/>
<rect x="0" y="65" width="104" height="33" fill="#0808a8"/>
<rect x="162" y="41" width="52" height="25" fill="#0808a8"/>
<rect x="106" y="65" width="108" height="33" fill="#0808a8"/>
<rect x="0" y="42" width="46" height="24" fill="url(#gtop)"/>
<rect x="0" y="66" width="103" height="31" fill="url(#gpx)"/>
<rect x="163" y="42" width="50" height="24" fill="url(#gtop)"/>
<rect x="107" y="66" width="106" height="31" fill="url(#gpx)"/>
<rect x="0" y="64" width="44" height="1" fill="#1010a0"/>
<rect x="0" y="65" width="44" height="1" fill="#7070ff"/>
<rect x="166" y="64" width="45" height="1" fill="#1010a0"/>
<rect x="166" y="65" width="45" height="1" fill="#7070ff"/>
<rect x="49.5" y="41.5" width="110" height="21" fill="#ffffff" stroke="#a8a8a8" stroke-width="1"/>
<rect x="50" y="42" width="21" height="20" fill="url(#gbtn)"/>
<rect x="71" y="42" width="1" height="20" fill="#b4b4b4"/>
<rect x="139" y="42" width="20" height="20" fill="url(#gbtn)"/>
<rect x="138" y="42" width="1" height="20" fill="#b4b4b4"/>
<polygon points="56.5,50 62.5,50 59.5,53" fill="#4a5ab8"/>
<polygon points="145.5,53 151.5,53 148.5,50" fill="#4a5ab8"/>
<text x="111" y="56" font-size="12.5" fill="#000" font-family="Liberation Sans" textLength="24" lengthAdjust="spacingAndGlyphs">1.00</text>
<text x="7" y="57" font-size="12.5" fill="#fff" font-family="Liberation Sans" textLength="26.5" lengthAdjust="spacingAndGlyphs">SELL</text>
<text x="175.3" y="57" font-size="12.5" fill="#fff" font-family="Liberation Sans" textLength="24.5" lengthAdjust="spacingAndGlyphs">BUY</text>
<text x="15" y="93" font-size="12" fill="#fff" font-family="Liberation Sans" textLength="24.5" lengthAdjust="spacingAndGlyphs" font-weight="bold">1.18</text>
<text x="43" y="93" font-size="33.5" fill="#fff" font-family="Liberation Sans" textLength="34.5" lengthAdjust="spacingAndGlyphs">35</text>
<text x="82" y="77" font-size="12" fill="#fff" font-family="Liberation Sans" textLength="7.5" lengthAdjust="spacingAndGlyphs" font-weight="bold">2</text>
<text x="125.2" y="93" font-size="12" fill="#fff" font-family="Liberation Sans" textLength="24.5" lengthAdjust="spacingAndGlyphs" font-weight="bold">1.18</text>
<text x="154.3" y="93" font-size="33.5" fill="#fff" font-family="Liberation Sans" textLength="34.5" lengthAdjust="spacingAndGlyphs">37</text>
<text x="193.3" y="77" font-size="12" fill="#fff" font-family="Liberation Sans" textLength="7.5" lengthAdjust="spacingAndGlyphs" font-weight="bold">3</text>
<rect x="1651" y="43" width="2" height="1" fill="#000000"/>
<text x="1656" y="47" font-size="9.6" fill="#141414" font-family="Liberation Sans" textLength="33" lengthAdjust="spacingAndGlyphs" stroke="#141414" stroke-width="0.3">1.22220</text>
<rect x="1651" y="76" width="2" height="1" fill="#000000"/>
<text x="1656" y="80" font-size="9.6" fill="#141414" font-family="Liberation Sans" textLength="33" lengthAdjust="spacingAndGlyphs" stroke="#141414" stroke-width="0.3">1.21930</text>
<rect x="1651" y="109" width="2" height="1" fill="#000000"/>
<text x="1656" y="113" font-size="9.6" fill="#141414" font-family="Liberation Sans" textLength="33" lengthAdjust="spacingAndGlyphs" stroke="#141414" stroke-width="0.3">1.21645</text>
<rect x="1651" y="142" width="2" height="1" fill="#000000"/>
<text x="1656" y="146" font-size="9.6" fill="#141414" font-family="Liberation Sans" textLength="33" lengthAdjust="spacingAndGlyphs" stroke="#141414" stroke-width="0.3">1.21355</text>
<rect x="1651" y="175" width="2" height="1" fill="#000000"/>
<text x="1656" y="179" font-size="9.6" fill="#141414" font-family="Liberation Sans" textLength="33" lengthAdjust="spacingAndGlyphs" stroke="#141414" stroke-width="0.3">1.21070</text>
<rect x="1651" y="208" width="2" height="1" fill="#000000"/>
<text x="1656" y="212" font-size="9.6" fill="#141414" font-family="Liberation Sans" textLength="33" lengthAdjust="spacingAndGlyphs" stroke="#141414" stroke-width="0.3">1.20780</text>
<rect x="1651" y="241" width="2" height="1" fill="#000000"/>
<text x="1656" y="245" font-size="9.6" fill="#141414" font-family="Liberation Sans" textLength="33" lengthAdjust="spacingAndGlyphs" stroke="#141414" stroke-width="0.3">1.20495</text>
<rect x="1651" y="274" width="2" height="1" fill="#000000"/>
<text x="1656" y="278" font-size="9.6" fill="#141414" font-family="Liberation Sans" textLength="33" lengthAdjust="spacingAndGlyphs" stroke="#141414" stroke-width="0.3">1.20205</text>
<rect x="1651" y="307" width="2" height="1" fill="#000000"/>
<text x="1656" y="311" font-size="9.6" fill="#141414" font-family="Liberation Sans" textLength="33" lengthAdjust="spacingAndGlyphs" stroke="#141414" stroke-width="0.3">1.19920</text>
<rect x="1651" y="340" width="2" height="1" fill="#000000"/>
<text x="1656" y="344" font-size="9.6" fill="#141414" font-family="Liberation Sans" textLength="33" lengthAdjust="spacingAndGlyphs" stroke="#141414" stroke-width="0.3">1.19630</text>
<rect x="1651" y="373" width="2" height="1" fill="#000000"/>
<text x="1656" y="377" font-size="9.6" fill="#141414" font-family="Liberation Sans" textLength="33" lengthAdjust="spacingAndGlyphs" stroke="#141414" stroke-width="0.3">1.19345</text>
<rect x="1651" y="406" width="2" height="1" fill="#000000"/>
<text x="1656" y="410" font-size="9.6" fill="#141414" font-family="Liberation Sans" textLength="33" lengthAdjust="spacingAndGlyphs" stroke="#141414" stroke-width="0.3">1.19055</text>
<rect x="1651" y="439" width="2" height="1" fill="#000000"/>
<text x="1656" y="443" font-size="9.6" fill="#141414" font-family="Liberation Sans" textLength="33" lengthAdjust="spacingAndGlyphs" stroke="#141414" stroke-width="0.3">1.18770</text>
<rect x="1651" y="472" width="2" height="1" fill="#000000"/>
<text x="1656" y="476" font-size="9.6" fill="#141414" font-family="Liberation Sans" textLength="33" lengthAdjust="spacingAndGlyphs" stroke="#141414" stroke-width="0.3">1.18480</text>
<rect x="1651" y="505" width="2" height="1" fill="#000000"/>
<text x="1656" y="509" font-size="9.6" fill="#141414" font-family="Liberation Sans" textLength="33" lengthAdjust="spacingAndGlyphs" stroke="#141414" stroke-width="0.3">1.18195</text>
<rect x="1651" y="538" width="2" height="1" fill="#000000"/>
<text x="1656" y="542" font-size="9.6" fill="#141414" font-family="Liberation Sans" textLength="33" lengthAdjust="spacingAndGlyphs" stroke="#141414" stroke-width="0.3">1.17905</text>
<rect x="1651" y="571" width="2" height="1" fill="#000000"/>
<text x="1656" y="575" font-size="9.6" fill="#141414" font-family="Liberation Sans" textLength="33" lengthAdjust="spacingAndGlyphs" stroke="#141414" stroke-width="0.3">1.17620</text>
<rect x="1652" y="447" width="41" height="11" fill="#ff0000"/>
<text x="1656" y="456" font-size="9.6" fill="#ffffff" font-family="Liberation Sans" textLength="33" lengthAdjust="spacingAndGlyphs" stroke="#ffffff" stroke-width="0.3">1.18652</text>
<rect x="1652" y="462" width="41" height="11" fill="#ff0000"/>
<text x="1656" y="471" font-size="9.6" fill="#ffffff" font-family="Liberation Sans" textLength="33" lengthAdjust="spacingAndGlyphs" stroke="#ffffff" stroke-width="0.3">1.18522</text>
<rect x="1652" y="481" width="41" height="11" fill="#000000"/>
<text x="1656" y="490" font-size="9.6" fill="#ffffff" font-family="Liberation Sans" textLength="33" lengthAdjust="spacingAndGlyphs" stroke="#ffffff" stroke-width="0.3">1.18352</text>
<rect x="1652" y="491" width="41" height="11" fill="#ffa500"/>
<text x="1656" y="500" font-size="9.6" fill="#ffffff" font-family="Liberation Sans" textLength="33" lengthAdjust="spacingAndGlyphs" stroke="#ffffff" stroke-width="0.3">1.18270</text>
<rect x="1652" y="509" width="41" height="11" fill="#0000ff"/>
<text x="1656" y="518" font-size="9.6" fill="#ffffff" font-family="Liberation Sans" textLength="33" lengthAdjust="spacingAndGlyphs" stroke="#ffffff" stroke-width="0.3">1.18114</text>
<rect x="1652" y="525" width="41" height="11" fill="#0000ff"/>
<text x="1656" y="534" font-size="9.6" fill="#ffffff" font-family="Liberation Sans" textLength="33" lengthAdjust="spacingAndGlyphs" stroke="#ffffff" stroke-width="0.3">1.17968</text>
<text x="-3" y="589" font-size="9.8" fill="#141414" font-family="Liberation Sans" textLength="153" lengthAdjust="spacingAndGlyphs" stroke="#141414" stroke-width="0.3">MACD(12,26,9) -0.000819 -0.001025</text>
<g clip-path="url(#cd)" shape-rendering="crispEdges">
<rect x="0" y="601" width="1" height="42" fill="#c0c0c0"/>
<rect x="8" y="601" width="1" height="48" fill="#c0c0c0"/>
<rect x="16" y="601" width="1" height="52" fill="#c0c0c0"/>
<rect x="24" y="601" width="1" height="44" fill="#c0c0c0"/>
<rect x="32" y="601" width="1" height="39" fill="#c0c0c0"/>
<rect x="40" y="601" width="1" height="34" fill="#c0c0c0"/>
<rect x="48" y="601" width="1" height="30" fill="#c0c0c0"/>
<rect x="56" y="601" width="1" height="26" fill="#c0c0c0"/>
<rect x="64" y="601" width="1" height="23" fill="#c0c0c0"/>
<rect x="72" y="601" width="1" height="15" fill="#c0c0c0"/>
<rect x="80" y="601" width="1" height="9" fill="#c0c0c0"/>
<rect x="88" y="601" width="1" height="5" fill="#c0c0c0"/>
<rect x="96" y="601" width="1" height="4" fill="#c0c0c0"/>
<rect x="104" y="601" width="1" height="4" fill="#c0c0c0"/>
<rect x="112" y="601" width="1" height="3" fill="#c0c0c0"/>
<rect x="120" y="601" width="1" height="2" fill="#c0c0c0"/>
<rect x="128" y="601" width="1" height="2" fill="#c0c0c0"/>
<rect x="136" y="601" width="1" height="2" fill="#c0c0c0"/>
<rect x="160" y="599" width="1" height="2" fill="#c0c0c0"/>
<rect x="168" y="598" width="1" height="3" fill="#c0c0c0"/>
<rect x="176" y="599" width="1" height="2" fill="#c0c0c0"/>
<rect x="200" y="601" width="1" height="2" fill="#c0c0c0"/>
<rect x="208" y="601" width="1" height="2" fill="#c0c0c0"/>
<rect x="216" y="601" width="1" height="1" fill="#c0c0c0"/>
<rect x="224" y="601" width="1" height="3" fill="#c0c0c0"/>
<rect x="232" y="601" width="1" height="3" fill="#c0c0c0"/>
<rect x="256" y="601" width="1" height="7" fill="#c0c0c0"/>
<rect x="264" y="601" width="1" height="18" fill="#c0c0c0"/>
<rect x="272" y="601" width="1" height="26" fill="#c0c0c0"/>
<rect x="280" y="601" width="1" height="31" fill="#c0c0c0"/>
<rect x="288" y="601" width="1" height="36" fill="#c0c0c0"/>
<rect x="296" y="601" width="1" height="37" fill="#c0c0c0"/>
<rect x="304" y="601" width="1" height="37" fill="#c0c0c0"/>
<rect x="312" y="601" width="1" height="35" fill="#c0c0c0"/>
<rect x="320" y="601" width="1" height="34" fill="#c0c0c0"/>
<rect x="328" y="601" width="1" height="32" fill="#c0c0c0"/>
<rect x="336" y="601" width="1" height="31" fill="#c0c0c0"/>
<rect x="344" y="601" width="1" height="26" fill="#c0c0c0"/>
<rect x="352" y="601" width="1" height="28" fill="#c0c0c0"/>
<rect x="360" y="601" width="1" height="27" fill="#c0c0c0"/>
<rect x="368" y="601" width="1" height="25" fill="#c0c0c0"/>
<rect x="376" y="601" width="1" height="22" fill="#c0c0c0"/>
<rect x="384" y="601" width="1" height="21" fill="#c0c0c0"/>
<rect x="392" y="601" width="1" height="18" fill="#c0c0c0"/>
<rect x="400" y="601" width="1" height="18" fill="#c0c0c0"/>
<rect x="408" y="601" width="1" height="18" fill="#c0c0c0"/>
<rect x="416" y="601" width="1" height="36" fill="#c0c0c0"/>
<rect x="424" y="601" width="1" height="52" fill="#c0c0c0"/>
<rect x="432" y="601" width="1" height="65" fill="#c0c0c0"/>
<rect x="440" y="601" width="1" height="79" fill="#c0c0c0"/>
<rect x="448" y="601" width="1" height="94" fill="#c0c0c0"/>
<rect x="456" y="601" width="1" height="108" fill="#c0c0c0"/>
<rect x="464" y="601" width="1" height="119" fill="#c0c0c0"/>
<rect x="472" y="601" width="1" height="124" fill="#c0c0c0"/>
<rect x="480" y="601" width="1" height="126" fill="#c0c0c0"/>
<rect x="488" y="601" width="1" height="126" fill="#c0c0c0"/>
<rect x="496" y="601" width="1" height="126" fill="#c0c0c0"/>
<rect x="504" y="601" width="1" height="131" fill="#c0c0c0"/>
<rect x="512" y="601" width="1" height="134" fill="#c0c0c0"/>
<rect x="520" y="601" width="1" height="134" fill="#c0c0c0"/>
<rect x="528" y="601" width="1" height="136" fill="#c0c0c0"/>
<rect x="536" y="601" width="1" height="130" fill="#c0c0c0"/>
<rect x="544" y="601" width="1" height="124" fill="#c0c0c0"/>
<rect x="552" y="601" width="1" height="115" fill="#c0c0c0"/>
<rect x="560" y="601" width="1" height="103" fill="#c0c0c0"/>
<rect x="568" y="601" width="1" height="95" fill="#c0c0c0"/>
<rect x="576" y="601" width="1" height="89" fill="#c0c0c0"/>
<rect x="584" y="601" width="1" height="83" fill="#c0c0c0"/>
<rect x="592" y="601" width="1" height="79" fill="#c0c0c0"/>
<rect x="600" y="601" width="1" height="73" fill="#c0c0c0"/>
<rect x="608" y="601" width="1" height="61" fill="#c0c0c0"/>
<rect x="616" y="601" width="1" height="52" fill="#c0c0c0"/>
<rect x="624" y="601" width="1" height="47" fill="#c0c0c0"/>
<rect x="632" y="601" width="1" height="41" fill="#c0c0c0"/>
<rect x="640" y="601" width="1" height="34" fill="#c0c0c0"/>
<rect x="648" y="601" width="1" height="27" fill="#c0c0c0"/>
<rect x="656" y="601" width="1" height="25" fill="#c0c0c0"/>
<rect x="664" y="601" width="1" height="22" fill="#c0c0c0"/>
<rect x="672" y="601" width="1" height="22" fill="#c0c0c0"/>
<rect x="680" y="601" width="1" height="19" fill="#c0c0c0"/>
<rect x="688" y="601" width="1" height="16" fill="#c0c0c0"/>
<rect x="696" y="601" width="1" height="15" fill="#c0c0c0"/>
<rect x="704" y="601" width="1" height="13" fill="#c0c0c0"/>
<rect x="712" y="601" width="1" height="13" fill="#c0c0c0"/>
<rect x="720" y="601" width="1" height="9" fill="#c0c0c0"/>
<rect x="728" y="601" width="1" height="7" fill="#c0c0c0"/>
<rect x="736" y="601" width="1" height="4" fill="#c0c0c0"/>
<rect x="744" y="601" width="1" height="3" fill="#c0c0c0"/>
<rect x="752" y="601" width="1" height="3" fill="#c0c0c0"/>
<rect x="760" y="601" width="1" height="1" fill="#c0c0c0"/>
<rect x="768" y="601" width="1" height="3" fill="#c0c0c0"/>
<rect x="776" y="601" width="1" height="1" fill="#c0c0c0"/>
<rect x="784" y="601" width="1" height="5" fill="#c0c0c0"/>
<rect x="792" y="601" width="1" height="3" fill="#c0c0c0"/>
<rect x="800" y="601" width="1" height="3" fill="#c0c0c0"/>
<rect x="808" y="601" width="1" height="4" fill="#c0c0c0"/>
<rect x="816" y="601" width="1" height="8" fill="#c0c0c0"/>
<rect x="824" y="601" width="1" height="11" fill="#c0c0c0"/>
<rect x="832" y="601" width="1" height="16" fill="#c0c0c0"/>
<rect x="840" y="601" width="1" height="17" fill="#c0c0c0"/>
<rect x="848" y="601" width="1" height="18" fill="#c0c0c0"/>
<rect x="856" y="601" width="1" height="20" fill="#c0c0c0"/>
<rect x="864" y="601" width="1" height="20" fill="#c0c0c0"/>
<rect x="872" y="601" width="1" height="20" fill="#c0c0c0"/>
<rect x="880" y="601" width="1" height="21" fill="#c0c0c0"/>
<rect x="888" y="601" width="1" height="29" fill="#c0c0c0"/>
<rect x="896" y="601" width="1" height="34" fill="#c0c0c0"/>
<rect x="904" y="601" width="1" height="37" fill="#c0c0c0"/>
<rect x="912" y="601" width="1" height="40" fill="#c0c0c0"/>
<rect x="920" y="601" width="1" height="42" fill="#c0c0c0"/>
<rect x="928" y="601" width="1" height="39" fill="#c0c0c0"/>
<rect x="936" y="601" width="1" height="40" fill="#c0c0c0"/>
<rect x="944" y="601" width="1" height="41" fill="#c0c0c0"/>
<rect x="952" y="601" width="1" height="42" fill="#c0c0c0"/>
<rect x="960" y="601" width="1" height="42" fill="#c0c0c0"/>
<rect x="968" y="601" width="1" height="46" fill="#c0c0c0"/>
<rect x="976" y="601" width="1" height="48" fill="#c0c0c0"/>
<rect x="984" y="601" width="1" height="44" fill="#c0c0c0"/>
<rect x="992" y="601" width="1" height="39" fill="#c0c0c0"/>
<rect x="1000" y="601" width="1" height="35" fill="#c0c0c0"/>
<rect x="1008" y="601" width="1" height="32" fill="#c0c0c0"/>
<rect x="1016" y="601" width="1" height="27" fill="#c0c0c0"/>
<rect x="1024" y="601" width="1" height="22" fill="#c0c0c0"/>
<rect x="1032" y="601" width="1" height="20" fill="#c0c0c0"/>
<rect x="1040" y="601" width="1" height="17" fill="#c0c0c0"/>
<rect x="1048" y="601" width="1" height="16" fill="#c0c0c0"/>
<rect x="1056" y="601" width="1" height="12" fill="#c0c0c0"/>
<rect x="1064" y="601" width="1" height="10" fill="#c0c0c0"/>
<rect x="1072" y="601" width="1" height="13" fill="#c0c0c0"/>
<rect x="1080" y="601" width="1" height="18" fill="#c0c0c0"/>
<rect x="1088" y="601" width="1" height="22" fill="#c0c0c0"/>
<rect x="1096" y="601" width="1" height="26" fill="#c0c0c0"/>
<rect x="1104" y="601" width="1" height="27" fill="#c0c0c0"/>
<rect x="1112" y="601" width="1" height="28" fill="#c0c0c0"/>
<rect x="1120" y="601" width="1" height="29" fill="#c0c0c0"/>
<rect x="1128" y="601" width="1" height="32" fill="#c0c0c0"/>
<rect x="1136" y="601" width="1" height="36" fill="#c0c0c0"/>
<rect x="1144" y="601" width="1" height="38" fill="#c0c0c0"/>
<rect x="1152" y="601" width="1" height="40" fill="#c0c0c0"/>
<rect x="1160" y="601" width="1" height="36" fill="#c0c0c0"/>
<rect x="1168" y="601" width="1" height="31" fill="#c0c0c0"/>
<rect x="1176" y="601" width="1" height="26" fill="#c0c0c0"/>
<rect x="1184" y="601" width="1" height="19" fill="#c0c0c0"/>
<rect x="1192" y="601" width="1" height="14" fill="#c0c0c0"/>
<rect x="1200" y="601" width="1" height="12" fill="#c0c0c0"/>
<rect x="1208" y="601" width="1" height="10" fill="#c0c0c0"/>
<rect x="1216" y="601" width="1" height="5" fill="#c0c0c0"/>
<rect x="1232" y="596" width="1" height="5" fill="#c0c0c0"/>
<rect x="1240" y="592" width="1" height="9" fill="#c0c0c0"/>
<rect x="1248" y="589" width="1" height="12" fill="#c0c0c0"/>
<rect x="1256" y="586" width="1" height="15" fill="#c0c0c0"/>
<rect x="1264" y="590" width="1" height="11" fill="#c0c0c0"/>
<rect x="1272" y="591" width="1" height="10" fill="#c0c0c0"/>
<rect x="1280" y="592" width="1" height="9" fill="#c0c0c0"/>
<rect x="1288" y="591" width="1" height="10" fill="#c0c0c0"/>
<rect x="1296" y="589" width="1" height="12" fill="#c0c0c0"/>
<rect x="1304" y="591" width="1" height="10" fill="#c0c0c0"/>
<rect x="1312" y="595" width="1" height="6" fill="#c0c0c0"/>
<rect x="1328" y="601" width="1" height="12" fill="#c0c0c0"/>
<rect x="1336" y="601" width="1" height="22" fill="#c0c0c0"/>
<rect x="1344" y="601" width="1" height="27" fill="#c0c0c0"/>
<rect x="1352" y="601" width="1" height="32" fill="#c0c0c0"/>
<rect x="1360" y="601" width="1" height="31" fill="#c0c0c0"/>
<rect x="1368" y="601" width="1" height="27" fill="#c0c0c0"/>
<rect x="1376" y="601" width="1" height="21" fill="#c0c0c0"/>
<rect x="1384" y="601" width="1" height="17" fill="#c0c0c0"/>
<polyline points="0.0,616.5 6.8,620.8 16.2,627.6 25.6,632.7 34.2,637.8 47.8,640.4 59.8,639.6 71.8,635.8 85.4,627.6 102.5,618.2 119.6,611.4 140.1,604.5 164.0,602.8 184.6,600.6 218.7,600.6 225.6,602.0 256.3,602.8 270.0,607.2 279.9,610.3 294.8,616.7 312.1,626.6 326.9,633.3 344.3,634.6 356.6,634.1 388.8,627.6 408.6,624.2 423.5,627.6 443.3,640.7 463.1,664.3 480.4,690.2 505.1,718.7 527.4,731.1 544.8,731.6 567.0,725.6 591.8,708.8 616.5,686.5 641.3,664.3 666.0,642.0 680.0,634.1 699.8,623.4 719.6,619.2 741.9,614.3 766.6,607.8 791.4,605.3 811.2,605.3 840.9,609.8 873.1,616.7 895.3,623.4 917.6,630.1 947.3,637.5 977.0,644.0 1016.6,641.5 1051.3,627.1 1076.0,619.2 1099.7,618.5 1113.3,620.5 1128.9,624.7 1144.5,631.0 1160.0,634.5 1189.2,632.5 1210.6,625.7 1237.8,610.1 1257.3,600.4 1280.6,593.2 1296.1,589.7 1317.5,590.1 1338.9,599.4 1358.4,610.1 1373.9,618.9 1385.6,621.2" fill="none" stroke="#ff0000" stroke-width="1" stroke-dasharray="3,3"/>
</g>
<line x1="1358.0" y1="637.4" x2="1390.7" y2="619.9" stroke="#ff0000" stroke-width="3.2"/>
<polygon points="1399.5,615.2 1392.8,623.9 1388.6,615.9" fill="#ff0000"/>
<rect x="1651" y="578" width="2" height="1" fill="#000000"/>
<rect x="1651" y="601" width="2" height="1" fill="#000000"/>
<rect x="1651" y="745" width="2" height="1" fill="#000000"/>
<text x="1653.5" y="587" font-size="9.6" fill="#141414" font-family="Liberation Sans" textLength="38.5" lengthAdjust="spacingAndGlyphs" stroke="#141414" stroke-width="0.3">0.001097</text>
<text x="1653.5" y="605" font-size="9.6" fill="#141414" font-family="Liberation Sans" textLength="18.5" lengthAdjust="spacingAndGlyphs" stroke="#141414" stroke-width="0.3">0.00</text>
<text x="1653.5" y="743" font-size="9.6" fill="#141414" font-family="Liberation Sans" textLength="32.5" lengthAdjust="spacingAndGlyphs" stroke="#141414" stroke-width="0.3">-0.0069</text>
<text x="-2" y="761" font-size="9.8" fill="#141414" font-family="Liberation Sans" textLength="65.5" lengthAdjust="spacingAndGlyphs" stroke="#141414" stroke-width="0.3">RSI(14) 52.1421</text>
<g clip-path="url(#cr)" shape-rendering="crispEdges">
<line x1="0" y1="784.5" x2="1650" y2="784.5" stroke="#c0c0c0" stroke-width="1" stroke-dasharray="3,3" stroke-dashoffset="1"/>
<line x1="0" y1="835.5" x2="1650" y2="835.5" stroke="#c0c0c0" stroke-width="1" stroke-dasharray="3,3" stroke-dashoffset="1"/>
<line x1="0" y1="896.5" x2="1650" y2="896.5" stroke="#c0c0c0" stroke-width="1" stroke-dasharray="3,3" stroke-dashoffset="1"/>
<polyline points="0.5,868.0 8.5,868.0 16.5,868.0 24.5,837.3 32.5,840.3 40.5,839.0 48.5,838.3 56.5,838.3 64.5,840.3 72.5,823.7 80.5,826.2 88.5,828.0 96.5,833.6 104.5,838.3 112.5,835.3 120.5,834.1 128.5,838.3 136.5,838.3 144.5,832.9 152.5,831.1 160.5,824.2 168.5,832.1 176.5,836.1 184.5,836.6 192.5,842.8 200.5,849.0 208.5,835.8 216.5,838.3 224.5,840.3 232.5,837.8 240.5,827.2 248.5,831.1 256.5,859.4 264.5,871.2 272.5,868.8 280.5,864.6 288.5,868.0 296.5,855.1 304.5,856.4 312.5,849.5 320.5,851.4 328.5,851.4 336.5,849.0 344.5,835.8 352.5,853.9 360.5,845.7 368.5,842.3 376.5,843.3 384.5,844.8 392.5,838.6 400.5,846.5 408.5,846.5 416.5,880.9 424.5,882.1 432.5,883.9 440.5,888.8 448.5,891.8 456.5,894.3 464.5,895.7 472.5,890.0 480.5,883.4 488.5,884.4 496.5,885.1 504.5,891.3 512.5,891.3 520.5,892.5 528.5,894.3 536.5,876.4 544.5,867.8 552.5,861.6 560.5,855.4 568.5,857.1 576.5,857.1 584.5,861.1 592.5,864.1 600.5,855.4 608.5,837.3 616.5,839.3 624.5,844.8 632.5,837.3 640.5,836.3 648.5,831.9 656.5,844.3 664.5,841.3 672.5,844.8 680.5,839.3 688.5,837.3 696.5,842.3 704.5,838.1 712.5,841.8 720.5,833.1 728.5,829.4 736.5,833.1 744.5,834.9 752.5,840.5 760.5,833.1 768.5,843.0 776.5,833.6 784.5,850.4 792.5,835.6 800.5,840.5 808.5,838.1 816.5,846.2 824.5,846.2 832.5,855.4 840.5,846.2 848.5,849.2 856.5,848.7 864.5,847.2 872.5,848.7 880.5,851.2 888.5,869.0 896.5,862.1 904.5,863.6 912.5,865.3 920.5,866.0 928.5,846.7 936.5,855.4 944.5,859.1 952.5,859.1 960.5,861.1 968.5,867.0 976.5,868.3 984.5,848.7 992.5,838.8 1000.5,843.8 1008.5,845.0 1016.5,835.6 1024.5,834.4 1032.5,838.1 1040.5,839.3 1048.5,840.5 1056.5,833.1 1064.5,834.4 1072.5,851.7 1080.5,862.1 1088.5,858.4 1096.5,858.4 1104.5,856.6 1112.5,856.6 1120.5,857.1 1128.5,865.3 1136.5,869.5 1144.5,871.0 1152.5,871.0 1160.5,846.7 1168.5,836.8 1176.5,833.1 1184.5,828.7 1192.5,829.9 1200.5,834.4 1208.5,834.4 1216.5,823.2 1224.5,820.0 1232.5,811.4 1240.5,814.7 1248.5,818.2 1256.5,813.4 1264.5,842.2 1272.5,831.5 1280.5,830.4 1288.5,828.3 1296.5,824.3 1304.5,835.5 1312.5,843.5 1320.5,854.6 1328.5,869.3 1336.5,869.3 1344.5,863.9 1352.5,862.9 1360.5,849.8 1368.5,837.1 1376.5,832.3 1384.5,832.3" fill="none" stroke="#1e90ff" stroke-width="1"/>
</g>
<line x1="1328.0" y1="874.8" x2="1395.3" y2="838.2" stroke="#ff0000" stroke-width="3.6"/>
<polygon points="1405.0,833.0 1398.0,843.1 1392.7,833.4" fill="#ff0000"/>
<rect x="1651" y="750" width="2" height="1" fill="#000000"/>
<rect x="1651" y="784" width="2" height="1" fill="#000000"/>
<rect x="1651" y="835" width="2" height="1" fill="#000000"/>
<rect x="1651" y="896" width="2" height="1" fill="#000000"/>
<rect x="1651" y="921" width="2" height="1" fill="#000000"/>
<text x="1654" y="759.5" font-size="9.6" fill="#141414" font-family="Liberation Sans" textLength="14.5" lengthAdjust="spacingAndGlyphs" stroke="#141414" stroke-width="0.3">100</text>
<text x="1654" y="788.5" font-size="9.6" fill="#141414" font-family="Liberation Sans" textLength="9.5" lengthAdjust="spacingAndGlyphs" stroke="#141414" stroke-width="0.3">80</text>
<text x="1654" y="839.5" font-size="9.6" fill="#141414" font-family="Liberation Sans" textLength="9.5" lengthAdjust="spacingAndGlyphs" stroke="#141414" stroke-width="0.3">50</text>
<text x="1654" y="900.5" font-size="9.6" fill="#141414" font-family="Liberation Sans" textLength="9.5" lengthAdjust="spacingAndGlyphs" stroke="#141414" stroke-width="0.3">15</text>
<text x="1654" y="918.8" font-size="9.6" fill="#141414" font-family="Liberation Sans" textLength="4.5" lengthAdjust="spacingAndGlyphs" stroke="#141414" stroke-width="0.3">0</text>
<text x="-9.2" y="935" font-size="9.6" fill="#141414" font-family="Liberation Sans" textLength="45.5" lengthAdjust="spacingAndGlyphs" stroke="#141414" stroke-width="0.3">4 Jun 2021</text>
<rect x="56" y="923" width="1" height="3" fill="#000000"/>
<text x="54.8" y="935" font-size="9.6" fill="#141414" font-family="Liberation Sans" textLength="47.5" lengthAdjust="spacingAndGlyphs" stroke="#141414" stroke-width="0.3">7 Jun 04:00</text>
<rect x="120" y="923" width="1" height="3" fill="#000000"/>
<text x="118.8" y="935" font-size="9.6" fill="#141414" font-family="Liberation Sans" textLength="47.5" lengthAdjust="spacingAndGlyphs" stroke="#141414" stroke-width="0.3">8 Jun 12:00</text>
<rect x="184" y="923" width="1" height="3" fill="#000000"/>
<text x="182.8" y="935" font-size="9.6" fill="#141414" font-family="Liberation Sans" textLength="47.5" lengthAdjust="spacingAndGlyphs" stroke="#141414" stroke-width="0.3">9 Jun 20:00</text>
<rect x="248" y="923" width="1" height="3" fill="#000000"/>
<text x="246.8" y="935" font-size="9.6" fill="#141414" font-family="Liberation Sans" textLength="52.5" lengthAdjust="spacingAndGlyphs" stroke="#141414" stroke-width="0.3">11 Jun 04:00</text>
<rect x="312" y="923" width="1" height="3" fill="#000000"/>
<text x="310.8" y="935" font-size="9.6" fill="#141414" font-family="Liberation Sans" textLength="52.5" lengthAdjust="spacingAndGlyphs" stroke="#141414" stroke-width="0.3">14 Jun 12:00</text>
<rect x="376" y="923" width="1" height="3" fill="#000000"/>
<text x="374.8" y="935" font-size="9.6" fill="#141414" font-family="Liberation Sans" textLength="52.5" lengthAdjust="spacingAndGlyphs" stroke="#141414" stroke-width="0.3">15 Jun 20:00</text>
<rect x="440" y="923" width="1" height="3" fill="#000000"/>
<text x="438.8" y="935" font-size="9.6" fill="#141414" font-family="Liberation Sans" textLength="52.5" lengthAdjust="spacingAndGlyphs" stroke="#141414" stroke-width="0.3">17 Jun 04:00</text>
<rect x="504" y="923" width="1" height="3" fill="#000000"/>
<text x="502.8" y="935" font-size="9.6" fill="#141414" font-family="Liberation Sans" textLength="52.5" lengthAdjust="spacingAndGlyphs" stroke="#141414" stroke-width="0.3">18 Jun 12:00</text>
<rect x="568" y="923" width="1" height="3" fill="#000000"/>
<text x="566.8" y="935" font-size="9.6" fill="#141414" font-family="Liberation Sans" textLength="52.5" lengthAdjust="spacingAndGlyphs" stroke="#141414" stroke-width="0.3">21 Jun 20:00</text>
<rect x="632" y="923" width="1" height="3" fill="#000000"/>
<text x="630.8" y="935" font-size="9.6" fill="#141414" font-family="Liberation Sans" textLength="52.5" lengthAdjust="spacingAndGlyphs" stroke="#141414" stroke-width="0.3">23 Jun 04:00</text>
<rect x="696" y="923" width="1" height="3" fill="#000000"/>
<text x="694.8" y="935" font-size="9.6" fill="#141414" font-family="Liberation Sans" textLength="52.5" lengthAdjust="spacingAndGlyphs" stroke="#141414" stroke-width="0.3">24 Jun 12:00</text>
<rect x="760" y="923" width="1" height="3" fill="#000000"/>
<text x="758.8" y="935" font-size="9.6" fill="#141414" font-family="Liberation Sans" textLength="52.5" lengthAdjust="spacingAndGlyphs" stroke="#141414" stroke-width="0.3">27 Jun 23:00</text>
<rect x="824" y="923" width="1" height="3" fill="#000000"/>
<text x="822.8" y="935" font-size="9.6" fill="#141414" font-family="Liberation Sans" textLength="52.5" lengthAdjust="spacingAndGlyphs" stroke="#141414" stroke-width="0.3">29 Jun 04:00</text>
<rect x="888" y="923" width="1" height="3" fill="#000000"/>
<text x="886.8" y="935" font-size="9.6" fill="#141414" font-family="Liberation Sans" textLength="52.5" lengthAdjust="spacingAndGlyphs" stroke="#141414" stroke-width="0.3">30 Jun 12:00</text>
<rect x="952" y="923" width="1" height="3" fill="#000000"/>
<text x="950.8" y="935" font-size="9.6" fill="#141414" font-family="Liberation Sans" textLength="44.5" lengthAdjust="spacingAndGlyphs" stroke="#141414" stroke-width="0.3">1 Jul 20:00</text>
<rect x="1016" y="923" width="1" height="3" fill="#000000"/>
<text x="1014.8" y="935" font-size="9.6" fill="#141414" font-family="Liberation Sans" textLength="44.5" lengthAdjust="spacingAndGlyphs" stroke="#141414" stroke-width="0.3">5 Jul 04:00</text>
<rect x="1080" y="923" width="1" height="3" fill="#000000"/>
<text x="1078.8" y="935" font-size="9.6" fill="#141414" font-family="Liberation Sans" textLength="44.5" lengthAdjust="spacingAndGlyphs" stroke="#141414" stroke-width="0.3">6 Jul 12:00</text>
<rect x="1144" y="923" width="1" height="3" fill="#000000"/>
<text x="1142.8" y="935" font-size="9.6" fill="#141414" font-family="Liberation Sans" textLength="44.5" lengthAdjust="spacingAndGlyphs" stroke="#141414" stroke-width="0.3">7 Jul 20:00</text>
<rect x="1208" y="923" width="1" height="3" fill="#000000"/>
<text x="1206.8" y="935" font-size="9.6" fill="#141414" font-family="Liberation Sans" textLength="44.5" lengthAdjust="spacingAndGlyphs" stroke="#141414" stroke-width="0.3">9 Jul 04:00</text>
<rect x="1272" y="923" width="1" height="3" fill="#000000"/>
<text x="1270.8" y="935" font-size="9.6" fill="#141414" font-family="Liberation Sans" textLength="49.5" lengthAdjust="spacingAndGlyphs" stroke="#141414" stroke-width="0.3">12 Jul 12:00</text>
<rect x="1336" y="923" width="1" height="3" fill="#000000"/>
<text x="1334.8" y="935" font-size="9.6" fill="#141414" font-family="Liberation Sans" textLength="49.5" lengthAdjust="spacingAndGlyphs" stroke="#141414" stroke-width="0.3">13 Jul 20:00</text></svg></body></html>
